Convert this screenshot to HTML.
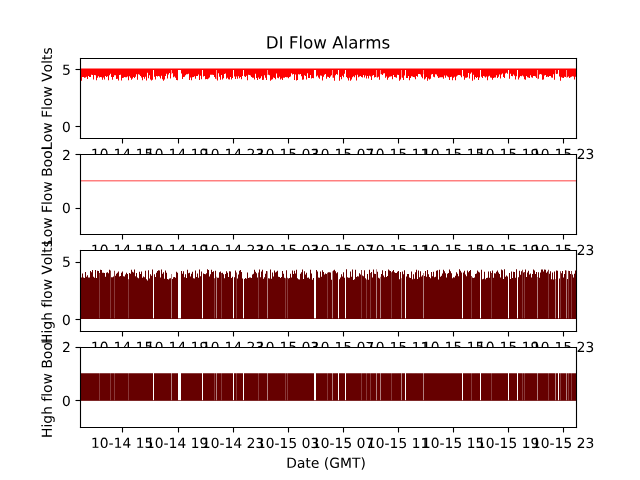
<!DOCTYPE html>
<html><head><meta charset="utf-8"><title>DI Flow Alarms</title>
<style>html,body{margin:0;padding:0;background:#fff;width:640px;height:480px;overflow:hidden;font-family:"Liberation Sans",sans-serif}svg{display:block}</style>
</head><body>
<svg width="640" height="480" viewBox="0 0 460.8 345.6" version="1.1">
<defs>
<style type="text/css">*{stroke-linejoin: round; stroke-linecap: butt}</style>
</defs>
<defs><path id="gl31" d="M 794 531 
L 1825 531 
L 1825 4091 
L 703 3866 
L 703 4441 
L 1819 4666 
L 2450 4666 
L 2450 531 
L 3481 531 
L 3481 0 
L 794 0 
L 794 531 
z
" transform="scale(0.015625)"/>
<path id="gl30" d="M 2034 4250 
Q 1547 4250 1301 3770 
Q 1056 3291 1056 2328 
Q 1056 1369 1301 889 
Q 1547 409 2034 409 
Q 2525 409 2770 889 
Q 3016 1369 3016 2328 
Q 3016 3291 2770 3770 
Q 2525 4250 2034 4250 
z
M 2034 4750 
Q 2819 4750 3233 4129 
Q 3647 3509 3647 2328 
Q 3647 1150 3233 529 
Q 2819 -91 2034 -91 
Q 1250 -91 836 529 
Q 422 1150 422 2328 
Q 422 3509 836 4129 
Q 1250 4750 2034 4750 
z
" transform="scale(0.015625)"/>
<path id="gl2d" d="M 313 2009 
L 1997 2009 
L 1997 1497 
L 313 1497 
L 313 2009 
z
" transform="scale(0.015625)"/>
<path id="gl34" d="M 2419 4116 
L 825 1625 
L 2419 1625 
L 2419 4116 
z
M 2253 4666 
L 3047 4666 
L 3047 1625 
L 3713 1625 
L 3713 1100 
L 3047 1100 
L 3047 0 
L 2419 0 
L 2419 1100 
L 313 1100 
L 313 1709 
L 2253 4666 
z
" transform="scale(0.015625)"/>
<path id="gl20" transform="scale(0.015625)"/>
<path id="gl35" d="M 691 4666 
L 3169 4666 
L 3169 4134 
L 1269 4134 
L 1269 2991 
Q 1406 3038 1543 3061 
Q 1681 3084 1819 3084 
Q 2600 3084 3056 2656 
Q 3513 2228 3513 1497 
Q 3513 744 3044 326 
Q 2575 -91 1722 -91 
Q 1428 -91 1123 -41 
Q 819 9 494 109 
L 494 744 
Q 775 591 1075 516 
Q 1375 441 1709 441 
Q 2250 441 2565 725 
Q 2881 1009 2881 1497 
Q 2881 1984 2565 2268 
Q 2250 2553 1709 2553 
Q 1456 2553 1204 2497 
Q 953 2441 691 2322 
L 691 4666 
z
" transform="scale(0.015625)"/>
<path id="gl39" d="M 703 97 
L 703 672 
Q 941 559 1184 500 
Q 1428 441 1663 441 
Q 2288 441 2617 861 
Q 2947 1281 2994 2138 
Q 2813 1869 2534 1725 
Q 2256 1581 1919 1581 
Q 1219 1581 811 2004 
Q 403 2428 403 3163 
Q 403 3881 828 4315 
Q 1253 4750 1959 4750 
Q 2769 4750 3195 4129 
Q 3622 3509 3622 2328 
Q 3622 1225 3098 567 
Q 2575 -91 1691 -91 
Q 1453 -91 1209 -44 
Q 966 3 703 97 
z
M 1959 2075 
Q 2384 2075 2632 2365 
Q 2881 2656 2881 3163 
Q 2881 3666 2632 3958 
Q 2384 4250 1959 4250 
Q 1534 4250 1286 3958 
Q 1038 3666 1038 3163 
Q 1038 2656 1286 2365 
Q 1534 2075 1959 2075 
z
" transform="scale(0.015625)"/>
<path id="gl32" d="M 1228 531 
L 3431 531 
L 3431 0 
L 469 0 
L 469 531 
Q 828 903 1448 1529 
Q 2069 2156 2228 2338 
Q 2531 2678 2651 2914 
Q 2772 3150 2772 3378 
Q 2772 3750 2511 3984 
Q 2250 4219 1831 4219 
Q 1534 4219 1204 4116 
Q 875 4013 500 3803 
L 500 4441 
Q 881 4594 1212 4672 
Q 1544 4750 1819 4750 
Q 2544 4750 2975 4387 
Q 3406 4025 3406 3419 
Q 3406 3131 3298 2873 
Q 3191 2616 2906 2266 
Q 2828 2175 2409 1742 
Q 1991 1309 1228 531 
z
" transform="scale(0.015625)"/>
<path id="gl33" d="M 2597 2516 
Q 3050 2419 3304 2112 
Q 3559 1806 3559 1356 
Q 3559 666 3084 287 
Q 2609 -91 1734 -91 
Q 1441 -91 1130 -33 
Q 819 25 488 141 
L 488 750 
Q 750 597 1062 519 
Q 1375 441 1716 441 
Q 2309 441 2620 675 
Q 2931 909 2931 1356 
Q 2931 1769 2642 2001 
Q 2353 2234 1838 2234 
L 1294 2234 
L 1294 2753 
L 1863 2753 
Q 2328 2753 2575 2939 
Q 2822 3125 2822 3475 
Q 2822 3834 2567 4026 
Q 2313 4219 1838 4219 
Q 1578 4219 1281 4162 
Q 984 4106 628 3988 
L 628 4550 
Q 988 4650 1302 4700 
Q 1616 4750 1894 4750 
Q 2613 4750 3031 4423 
Q 3450 4097 3450 3541 
Q 3450 3153 3228 2886 
Q 3006 2619 2597 2516 
z
" transform="scale(0.015625)"/>
<path id="gl37" d="M 525 4666 
L 3525 4666 
L 3525 4397 
L 1831 0 
L 1172 0 
L 2766 4134 
L 525 4134 
L 525 4666 
z
" transform="scale(0.015625)"/>
<path id="gl4c" d="M 628 4666 
L 1259 4666 
L 1259 531 
L 3531 531 
L 3531 0 
L 628 0 
L 628 4666 
z
" transform="scale(0.015625)"/>
<path id="gl6f" d="M 1959 3097 
Q 1497 3097 1228 2736 
Q 959 2375 959 1747 
Q 959 1119 1226 758 
Q 1494 397 1959 397 
Q 2419 397 2687 759 
Q 2956 1122 2956 1747 
Q 2956 2369 2687 2733 
Q 2419 3097 1959 3097 
z
M 1959 3584 
Q 2709 3584 3137 3096 
Q 3566 2609 3566 1747 
Q 3566 888 3137 398 
Q 2709 -91 1959 -91 
Q 1206 -91 779 398 
Q 353 888 353 1747 
Q 353 2609 779 3096 
Q 1206 3584 1959 3584 
z
" transform="scale(0.015625)"/>
<path id="gl77" d="M 269 3500 
L 844 3500 
L 1563 769 
L 2278 3500 
L 2956 3500 
L 3675 769 
L 4391 3500 
L 4966 3500 
L 4050 0 
L 3372 0 
L 2619 2869 
L 1863 0 
L 1184 0 
L 269 3500 
z
" transform="scale(0.015625)"/>
<path id="gl46" d="M 628 4666 
L 3309 4666 
L 3309 4134 
L 1259 4134 
L 1259 2759 
L 3109 2759 
L 3109 2228 
L 1259 2228 
L 1259 0 
L 628 0 
L 628 4666 
z
" transform="scale(0.015625)"/>
<path id="gl6c" d="M 603 4863 
L 1178 4863 
L 1178 0 
L 603 0 
L 603 4863 
z
" transform="scale(0.015625)"/>
<path id="gl56" d="M 1831 0 
L 50 4666 
L 709 4666 
L 2188 738 
L 3669 4666 
L 4325 4666 
L 2547 0 
L 1831 0 
z
" transform="scale(0.015625)"/>
<path id="gl74" d="M 1172 4494 
L 1172 3500 
L 2356 3500 
L 2356 3053 
L 1172 3053 
L 1172 1153 
Q 1172 725 1289 603 
Q 1406 481 1766 481 
L 2356 481 
L 2356 0 
L 1766 0 
Q 1100 0 847 248 
Q 594 497 594 1153 
L 594 3053 
L 172 3053 
L 172 3500 
L 594 3500 
L 594 4494 
L 1172 4494 
z
" transform="scale(0.015625)"/>
<path id="gl73" d="M 2834 3397 
L 2834 2853 
Q 2591 2978 2328 3040 
Q 2066 3103 1784 3103 
Q 1356 3103 1142 2972 
Q 928 2841 928 2578 
Q 928 2378 1081 2264 
Q 1234 2150 1697 2047 
L 1894 2003 
Q 2506 1872 2764 1633 
Q 3022 1394 3022 966 
Q 3022 478 2636 193 
Q 2250 -91 1575 -91 
Q 1294 -91 989 -36 
Q 684 19 347 128 
L 347 722 
Q 666 556 975 473 
Q 1284 391 1588 391 
Q 1994 391 2212 530 
Q 2431 669 2431 922 
Q 2431 1156 2273 1281 
Q 2116 1406 1581 1522 
L 1381 1569 
Q 847 1681 609 1914 
Q 372 2147 372 2553 
Q 372 3047 722 3315 
Q 1072 3584 1716 3584 
Q 2034 3584 2315 3537 
Q 2597 3491 2834 3397 
z
" transform="scale(0.015625)"/>
<path id="gl44" d="M 1259 4147 
L 1259 519 
L 2022 519 
Q 2988 519 3436 956 
Q 3884 1394 3884 2338 
Q 3884 3275 3436 3711 
Q 2988 4147 2022 4147 
L 1259 4147 
z
M 628 4666 
L 1925 4666 
Q 3281 4666 3915 4102 
Q 4550 3538 4550 2338 
Q 4550 1131 3912 565 
Q 3275 0 1925 0 
L 628 0 
L 628 4666 
z
" transform="scale(0.015625)"/>
<path id="gl49" d="M 628 4666 
L 1259 4666 
L 1259 0 
L 628 0 
L 628 4666 
z
" transform="scale(0.015625)"/>
<path id="gl41" d="M 2188 4044 
L 1331 1722 
L 3047 1722 
L 2188 4044 
z
M 1831 4666 
L 2547 4666 
L 4325 0 
L 3669 0 
L 3244 1197 
L 1141 1197 
L 716 0 
L 50 0 
L 1831 4666 
z
" transform="scale(0.015625)"/>
<path id="gl61" d="M 2194 1759 
Q 1497 1759 1228 1600 
Q 959 1441 959 1056 
Q 959 750 1161 570 
Q 1363 391 1709 391 
Q 2188 391 2477 730 
Q 2766 1069 2766 1631 
L 2766 1759 
L 2194 1759 
z
M 3341 1997 
L 3341 0 
L 2766 0 
L 2766 531 
Q 2569 213 2275 61 
Q 1981 -91 1556 -91 
Q 1019 -91 701 211 
Q 384 513 384 1019 
Q 384 1609 779 1909 
Q 1175 2209 1959 2209 
L 2766 2209 
L 2766 2266 
Q 2766 2663 2505 2880 
Q 2244 3097 1772 3097 
Q 1472 3097 1187 3025 
Q 903 2953 641 2809 
L 641 3341 
Q 956 3463 1253 3523 
Q 1550 3584 1831 3584 
Q 2591 3584 2966 3190 
Q 3341 2797 3341 1997 
z
" transform="scale(0.015625)"/>
<path id="gl72" d="M 2631 2963 
Q 2534 3019 2420 3045 
Q 2306 3072 2169 3072 
Q 1681 3072 1420 2755 
Q 1159 2438 1159 1844 
L 1159 0 
L 581 0 
L 581 3500 
L 1159 3500 
L 1159 2956 
Q 1341 3275 1631 3429 
Q 1922 3584 2338 3584 
Q 2397 3584 2469 3576 
Q 2541 3569 2628 3553 
L 2631 2963 
z
" transform="scale(0.015625)"/>
<path id="gl6d" d="M 3328 2828 
Q 3544 3216 3844 3400 
Q 4144 3584 4550 3584 
Q 5097 3584 5394 3201 
Q 5691 2819 5691 2113 
L 5691 0 
L 5113 0 
L 5113 2094 
Q 5113 2597 4934 2840 
Q 4756 3084 4391 3084 
Q 3944 3084 3684 2787 
Q 3425 2491 3425 1978 
L 3425 0 
L 2847 0 
L 2847 2094 
Q 2847 2600 2669 2842 
Q 2491 3084 2119 3084 
Q 1678 3084 1418 2786 
Q 1159 2488 1159 1978 
L 1159 0 
L 581 0 
L 581 3500 
L 1159 3500 
L 1159 2956 
Q 1356 3278 1631 3431 
Q 1906 3584 2284 3584 
Q 2666 3584 2933 3390 
Q 3200 3197 3328 2828 
z
" transform="scale(0.015625)"/>
<path id="gl42" d="M 1259 2228 
L 1259 519 
L 2272 519 
Q 2781 519 3026 730 
Q 3272 941 3272 1375 
Q 3272 1813 3026 2020 
Q 2781 2228 2272 2228 
L 1259 2228 
z
M 1259 4147 
L 1259 2741 
L 2194 2741 
Q 2656 2741 2882 2914 
Q 3109 3088 3109 3444 
Q 3109 3797 2882 3972 
Q 2656 4147 2194 4147 
L 1259 4147 
z
M 628 4666 
L 2241 4666 
Q 2963 4666 3353 4366 
Q 3744 4066 3744 3513 
Q 3744 3084 3544 2831 
Q 3344 2578 2956 2516 
Q 3422 2416 3680 2098 
Q 3938 1781 3938 1306 
Q 3938 681 3513 340 
Q 3088 0 2303 0 
L 628 0 
L 628 4666 
z
" transform="scale(0.015625)"/>
<path id="gl48" d="M 628 4666 
L 1259 4666 
L 1259 2753 
L 3553 2753 
L 3553 4666 
L 4184 4666 
L 4184 0 
L 3553 0 
L 3553 2222 
L 1259 2222 
L 1259 0 
L 628 0 
L 628 4666 
z
" transform="scale(0.015625)"/>
<path id="gl69" d="M 603 3500 
L 1178 3500 
L 1178 0 
L 603 0 
L 603 3500 
z
M 603 4863 
L 1178 4863 
L 1178 4134 
L 603 4134 
L 603 4863 
z
" transform="scale(0.015625)"/>
<path id="gl67" d="M 2906 1791 
Q 2906 2416 2648 2759 
Q 2391 3103 1925 3103 
Q 1463 3103 1205 2759 
Q 947 2416 947 1791 
Q 947 1169 1205 825 
Q 1463 481 1925 481 
Q 2391 481 2648 825 
Q 2906 1169 2906 1791 
z
M 3481 434 
Q 3481 -459 3084 -895 
Q 2688 -1331 1869 -1331 
Q 1566 -1331 1297 -1286 
Q 1028 -1241 775 -1147 
L 775 -588 
Q 1028 -725 1275 -790 
Q 1522 -856 1778 -856 
Q 2344 -856 2625 -561 
Q 2906 -266 2906 331 
L 2906 616 
Q 2728 306 2450 153 
Q 2172 0 1784 0 
Q 1141 0 747 490 
Q 353 981 353 1791 
Q 353 2603 747 3093 
Q 1141 3584 1784 3584 
Q 2172 3584 2450 3431 
Q 2728 3278 2906 2969 
L 2906 3500 
L 3481 3500 
L 3481 434 
z
" transform="scale(0.015625)"/>
<path id="gl68" d="M 3513 2113 
L 3513 0 
L 2938 0 
L 2938 2094 
Q 2938 2591 2744 2837 
Q 2550 3084 2163 3084 
Q 1697 3084 1428 2787 
Q 1159 2491 1159 1978 
L 1159 0 
L 581 0 
L 581 4863 
L 1159 4863 
L 1159 2956 
Q 1366 3272 1645 3428 
Q 1925 3584 2291 3584 
Q 2894 3584 3203 3211 
Q 3513 2838 3513 2113 
z
" transform="scale(0.015625)"/>
<path id="gl66" d="M 2375 4863 
L 2375 4384 
L 1825 4384 
Q 1516 4384 1395 4259 
Q 1275 4134 1275 3809 
L 1275 3500 
L 2222 3500 
L 2222 3053 
L 1275 3053 
L 1275 0 
L 697 0 
L 697 3053 
L 147 3053 
L 147 3500 
L 697 3500 
L 697 3744 
Q 697 4328 969 4595 
Q 1241 4863 1831 4863 
L 2375 4863 
z
" transform="scale(0.015625)"/>
<path id="gl65" d="M 3597 1894 
L 3597 1613 
L 953 1613 
Q 991 1019 1311 708 
Q 1631 397 2203 397 
Q 2534 397 2845 478 
Q 3156 559 3463 722 
L 3463 178 
Q 3153 47 2828 -22 
Q 2503 -91 2169 -91 
Q 1331 -91 842 396 
Q 353 884 353 1716 
Q 353 2575 817 3079 
Q 1281 3584 2069 3584 
Q 2775 3584 3186 3129 
Q 3597 2675 3597 1894 
z
M 3022 2063 
Q 3016 2534 2758 2815 
Q 2500 3097 2075 3097 
Q 1594 3097 1305 2825 
Q 1016 2553 972 2059 
L 3022 2063 
z
" transform="scale(0.015625)"/>
<path id="gl28" d="M 1984 4856 
Q 1566 4138 1362 3434 
Q 1159 2731 1159 2009 
Q 1159 1288 1364 580 
Q 1569 -128 1984 -844 
L 1484 -844 
Q 1016 -109 783 600 
Q 550 1309 550 2009 
Q 550 2706 781 3412 
Q 1013 4119 1484 4856 
L 1984 4856 
z
" transform="scale(0.015625)"/>
<path id="gl47" d="M 3809 666 
L 3809 1919 
L 2778 1919 
L 2778 2438 
L 4434 2438 
L 4434 434 
Q 4069 175 3628 42 
Q 3188 -91 2688 -91 
Q 1594 -91 976 548 
Q 359 1188 359 2328 
Q 359 3472 976 4111 
Q 1594 4750 2688 4750 
Q 3144 4750 3555 4637 
Q 3966 4525 4313 4306 
L 4313 3634 
Q 3963 3931 3569 4081 
Q 3175 4231 2741 4231 
Q 1884 4231 1454 3753 
Q 1025 3275 1025 2328 
Q 1025 1384 1454 906 
Q 1884 428 2741 428 
Q 3075 428 3337 486 
Q 3600 544 3809 666 
z
" transform="scale(0.015625)"/>
<path id="gl4d" d="M 628 4666 
L 1569 4666 
L 2759 1491 
L 3956 4666 
L 4897 4666 
L 4897 0 
L 4281 0 
L 4281 4097 
L 3078 897 
L 2444 897 
L 1241 4097 
L 1241 0 
L 628 0 
L 628 4666 
z
" transform="scale(0.015625)"/>
<path id="gl54" d="M -19 4666 
L 3928 4666 
L 3928 4134 
L 2272 4134 
L 2272 0 
L 1638 0 
L 1638 4134 
L -19 4134 
L -19 4666 
z
" transform="scale(0.015625)"/>
<path id="gl29" d="M 513 4856 
L 1013 4856 
Q 1481 4119 1714 3412 
Q 1947 2706 1947 2009 
Q 1947 1309 1714 600 
Q 1481 -109 1013 -844 
L 513 -844 
Q 928 -128 1133 580 
Q 1338 1288 1338 2009 
Q 1338 2731 1133 3434 
Q 928 4138 513 4856 
z
" transform="scale(0.015625)"/></defs>
<g id="figure_1">
<g id="patch_1">
<path d="M0 0H460.8V345.6H0Z" style="fill:#fff"/>
</g>
<g id="axes_1">
<g id="patch_2">
<path d="M57.6 41.76H414.72V99.36H57.6Z" style="fill:#fff"/>
</g>
<g id="matplotlib.axis_1">
<g id="xtick_1">
<g id="line2d_1">
<g>
<path d="M87.8 99.72H88.6V103.32H87.8Z" style="fill:#000"/>
</g>
</g>
<g id="T0" transform="translate(-0.289 0.461)">
<g transform="translate(65.706198 113.920872) scale(0.1 -0.1)">
<use href="#gl31"/>
<use href="#gl30" transform="translate(63.623047 0)"/>
<use href="#gl2d" transform="translate(127.246094 0)"/>
<use href="#gl31" transform="translate(163.330078 0)"/>
<use href="#gl34" transform="translate(226.953125 0)"/>
<use href="#gl20" transform="translate(290.576172 0)"/>
<use href="#gl31" transform="translate(322.363281 0)"/>
<use href="#gl35" transform="translate(385.986328 0)"/>
</g>
</g>
</g>
<g id="xtick_2">
<g id="line2d_2">
<g>
<path d="M128.12 99.72H128.92V103.32H128.12Z" style="fill:#000"/>
</g>
</g>
<g id="T1" transform="translate(-0.361 0.483)">
<g transform="translate(105.386198 113.920872) scale(0.1 -0.1)">
<use href="#gl31"/>
<use href="#gl30" transform="translate(63.623047 0)"/>
<use href="#gl2d" transform="translate(127.246094 0)"/>
<use href="#gl31" transform="translate(163.330078 0)"/>
<use href="#gl34" transform="translate(226.953125 0)"/>
<use href="#gl20" transform="translate(290.576172 0)"/>
<use href="#gl31" transform="translate(322.363281 0)"/>
<use href="#gl39" transform="translate(385.986328 0)"/>
</g>
</g>
</g>
<g id="xtick_3">
<g id="line2d_3">
<g>
<path d="M167.72 99.72H168.52V103.32H167.72Z" style="fill:#000"/>
</g>
</g>
<g id="T2" transform="translate(0.286 0.535)">
<g transform="translate(145.066198 113.920872) scale(0.1 -0.1)">
<use href="#gl31"/>
<use href="#gl30" transform="translate(63.623047 0)"/>
<use href="#gl2d" transform="translate(127.246094 0)"/>
<use href="#gl31" transform="translate(163.330078 0)"/>
<use href="#gl34" transform="translate(226.953125 0)"/>
<use href="#gl20" transform="translate(290.576172 0)"/>
<use href="#gl32" transform="translate(322.363281 0)"/>
<use href="#gl33" transform="translate(385.986328 0)"/>
</g>
</g>
</g>
<g id="xtick_4">
<g id="line2d_4">
<g>
<path d="M207.32 99.72H208.12V103.32H207.32Z" style="fill:#000"/>
</g>
</g>
<g id="T3" transform="translate(0.167 0.518)">
<g transform="translate(184.746198 113.920872) scale(0.1 -0.1)">
<use href="#gl31"/>
<use href="#gl30" transform="translate(63.623047 0)"/>
<use href="#gl2d" transform="translate(127.246094 0)"/>
<use href="#gl31" transform="translate(163.330078 0)"/>
<use href="#gl35" transform="translate(226.953125 0)"/>
<use href="#gl20" transform="translate(290.576172 0)"/>
<use href="#gl30" transform="translate(322.363281 0)"/>
<use href="#gl33" transform="translate(385.986328 0)"/>
</g>
</g>
</g>
<g id="xtick_5">
<g id="line2d_5">
<g>
<path d="M246.92 99.72H247.72V103.32H246.92Z" style="fill:#000"/>
</g>
</g>
<g id="T4" transform="translate(0.095 0.521)">
<g transform="translate(224.426198 113.920872) scale(0.1 -0.1)">
<use href="#gl31"/>
<use href="#gl30" transform="translate(63.623047 0)"/>
<use href="#gl2d" transform="translate(127.246094 0)"/>
<use href="#gl31" transform="translate(163.330078 0)"/>
<use href="#gl35" transform="translate(226.953125 0)"/>
<use href="#gl20" transform="translate(290.576172 0)"/>
<use href="#gl30" transform="translate(322.363281 0)"/>
<use href="#gl37" transform="translate(385.986328 0)"/>
</g>
</g>
</g>
<g id="xtick_6">
<g id="line2d_6">
<g>
<path d="M286.52 99.72H287.32V103.32H286.52Z" style="fill:#000"/>
</g>
</g>
<g id="T5" transform="translate(0.034 0.474)">
<g transform="translate(264.106198 113.920872) scale(0.1 -0.1)">
<use href="#gl31"/>
<use href="#gl30" transform="translate(63.623047 0)"/>
<use href="#gl2d" transform="translate(127.246094 0)"/>
<use href="#gl31" transform="translate(163.330078 0)"/>
<use href="#gl35" transform="translate(226.953125 0)"/>
<use href="#gl20" transform="translate(290.576172 0)"/>
<use href="#gl31" transform="translate(322.363281 0)"/>
<use href="#gl31" transform="translate(385.986328 0)"/>
</g>
</g>
</g>
<g id="xtick_7">
<g id="line2d_7">
<g>
<path d="M326.12 99.72H326.92V103.32H326.12Z" style="fill:#000"/>
</g>
</g>
<g id="T6" transform="translate(-0.019 0.474)">
<g transform="translate(303.786198 113.920872) scale(0.1 -0.1)">
<use href="#gl31"/>
<use href="#gl30" transform="translate(63.623047 0)"/>
<use href="#gl2d" transform="translate(127.246094 0)"/>
<use href="#gl31" transform="translate(163.330078 0)"/>
<use href="#gl35" transform="translate(226.953125 0)"/>
<use href="#gl20" transform="translate(290.576172 0)"/>
<use href="#gl31" transform="translate(322.363281 0)"/>
<use href="#gl35" transform="translate(385.986328 0)"/>
</g>
</g>
</g>
<g id="xtick_8">
<g id="line2d_8">
<g>
<path d="M365.72 99.72H366.52V103.32H365.72Z" style="fill:#000"/>
</g>
</g>
<g id="T7" transform="translate(-0.103 0.518)">
<g transform="translate(343.466198 113.920872) scale(0.1 -0.1)">
<use href="#gl31"/>
<use href="#gl30" transform="translate(63.623047 0)"/>
<use href="#gl2d" transform="translate(127.246094 0)"/>
<use href="#gl31" transform="translate(163.330078 0)"/>
<use href="#gl35" transform="translate(226.953125 0)"/>
<use href="#gl20" transform="translate(290.576172 0)"/>
<use href="#gl31" transform="translate(322.363281 0)"/>
<use href="#gl39" transform="translate(385.986328 0)"/>
</g>
</g>
</g>
<g id="xtick_9">
<g id="line2d_9">
<g>
<path d="M405.32 99.72H406.12V103.32H405.32Z" style="fill:#000"/>
</g>
</g>
<g id="T8" transform="translate(-0.187 0.546)">
<g transform="translate(383.146198 113.920872) scale(0.1 -0.1)">
<use href="#gl31"/>
<use href="#gl30" transform="translate(63.623047 0)"/>
<use href="#gl2d" transform="translate(127.246094 0)"/>
<use href="#gl31" transform="translate(163.330078 0)"/>
<use href="#gl35" transform="translate(226.953125 0)"/>
<use href="#gl20" transform="translate(290.576172 0)"/>
<use href="#gl32" transform="translate(322.363281 0)"/>
<use href="#gl33" transform="translate(385.986328 0)"/>
</g>
</g>
</g>
</g>
<g id="matplotlib.axis_2">
<g id="ytick_1">
<g id="line2d_10">
<g>
<path d="M54.36 90.68H57.96V91.48H54.36Z" style="fill:#000"/>
</g>
</g>
<g id="T10" transform="translate(0.359 0.163)">
<g transform="translate(44.2375 94.857306) scale(0.1 -0.1)">
<use href="#gl30"/>
</g>
</g>
</g>
<g id="ytick_2">
<g id="line2d_11">
<g>
<path d="M54.36 49.64H57.96V50.44H54.36Z" style="fill:#000"/>
</g>
</g>
<g id="T11" transform="translate(0.425 0.302)">
<g transform="translate(44.2375 53.535567) scale(0.1 -0.1)">
<use href="#gl35"/>
</g>
</g>
</g>
<g id="T13" transform="translate(-0.819 0.634)">
<g transform="translate(38.157812 107.350342) rotate(-90) scale(0.1 -0.1)">
<use href="#gl4c"/>
<use href="#gl6f" transform="translate(55.697266 0)"/>
<use href="#gl77" transform="translate(116.878906 0)"/>
<use href="#gl20" transform="translate(198.666016 0)"/>
<use href="#gl46" transform="translate(230.453125 0)"/>
<use href="#gl6c" transform="translate(287.972656 0)"/>
<use href="#gl6f" transform="translate(315.755859 0)"/>
<use href="#gl77" transform="translate(376.9375 0)"/>
<use href="#gl20" transform="translate(458.724609 0)"/>
<use href="#gl56" transform="translate(490.511719 0)"/>
<use href="#gl6f" transform="translate(558.810547 0)"/>
<use href="#gl6c" transform="translate(619.992188 0)"/>
<use href="#gl74" transform="translate(647.775391 0)"/>
<use href="#gl73" transform="translate(686.984375 0)"/>
</g>
</g>
</g>
<g id="data1"><path d="M123.12 50.472H123.84V53.48H123.12ZM155.52 50.472H156.24V57.008H155.52ZM192.24 50.472H192.96V54.039H192.24ZM239.04 50.472H239.76V56.032H239.04ZM270.72 50.472H271.44V55.684H270.72ZM273.6 50.472H274.32V53.413H273.6ZM288.72 50.472H289.44V55.767H288.72ZM304.56 50.472H305.28V53.399H304.56ZM386.64 50.472H387.36V57.108H386.64ZM399.6 50.472H400.32V52.914H399.6ZM407.52 50.472H408.24V56H407.52Z" style="fill:#ff0000;fill-opacity:0.4" /><path d="M57.6 49.356H58.32V50.472H57.6ZM57.6 50.472H58.32V56.603H57.6ZM58.32 49.356H59.04V50.472H58.32ZM58.32 50.472H59.04V58.143H58.32ZM59.04 49.356H59.76V50.472H59.04ZM59.04 50.472H59.76V55.449H59.04ZM59.76 49.356H60.48V50.472H59.76ZM59.76 50.472H60.48V55.512H59.76ZM60.48 49.356H61.2V50.472H60.48ZM60.48 50.472H61.2V55.928H60.48ZM61.2 49.356H61.92V50.472H61.2ZM61.2 50.472H61.92V55.749H61.2ZM61.92 49.356H62.64V50.472H61.92ZM61.92 50.472H62.64V55.292H61.92ZM62.64 49.356H63.36V50.472H62.64ZM62.64 50.472H63.36V56.801H62.64ZM63.36 49.356H64.08V50.472H63.36ZM63.36 50.472H64.08V54.656H63.36ZM64.08 49.356H64.8V50.472H64.08ZM64.08 50.472H64.8V55.496H64.08ZM64.8 49.356H65.52V50.472H64.8ZM64.8 50.472H65.52V55.502H64.8ZM65.52 49.356H66.24V50.472H65.52ZM65.52 50.472H66.24V53.734H65.52ZM66.24 49.356H66.96V50.472H66.24ZM66.24 50.472H66.96V53.98H66.24ZM66.96 49.356H67.68V50.472H66.96ZM66.96 50.472H67.68V57.284H66.96ZM67.68 49.356H68.4V50.472H67.68ZM67.68 50.472H68.4V54.084H67.68ZM68.4 49.356H69.12V50.472H68.4ZM68.4 50.472H69.12V54.116H68.4ZM69.12 49.356H69.84V50.472H69.12ZM69.12 50.472H69.84V57.847H69.12ZM69.84 49.356H70.56V50.472H69.84ZM69.84 50.472H70.56V55.981H69.84ZM70.56 49.356H71.28V50.472H70.56ZM70.56 50.472H71.28V54.987H70.56ZM71.28 49.356H72V50.472H71.28ZM71.28 50.472H72V55.746H71.28ZM72 49.356H72.72V50.472H72ZM72 50.472H72.72V55.463H72ZM72.72 49.356H73.44V50.472H72.72ZM72.72 50.472H73.44V55.6H72.72ZM73.44 49.356H74.16V50.472H73.44ZM73.44 50.472H74.16V57.445H73.44ZM74.16 49.356H74.88V50.472H74.16ZM74.16 50.472H74.88V55.82H74.16ZM74.88 49.356H75.6V50.472H74.88ZM74.88 50.472H75.6V57.255H74.88ZM75.6 49.356H76.32V50.472H75.6ZM75.6 50.472H76.32V54.677H75.6ZM76.32 49.356H77.04V50.472H76.32ZM76.32 50.472H77.04V55.51H76.32ZM77.04 49.356H77.76V50.472H77.04ZM77.04 50.472H77.76V54.85H77.04ZM77.76 49.356H78.48V50.472H77.76ZM77.76 50.472H78.48V57.752H77.76ZM78.48 49.356H79.2V50.472H78.48ZM78.48 50.472H79.2V54.095H78.48ZM79.2 49.356H79.92V50.472H79.2ZM79.2 50.472H79.92V53.13H79.2ZM79.92 49.356H80.64V50.472H79.92ZM79.92 50.472H80.64V55.387H79.92ZM80.64 49.356H81.36V50.472H80.64ZM80.64 50.472H81.36V57.332H80.64ZM81.36 49.356H82.08V50.472H81.36ZM81.36 50.472H82.08V55.504H81.36ZM82.08 49.356H82.8V50.472H82.08ZM82.08 50.472H82.8V54.113H82.08ZM82.8 49.356H83.52V50.472H82.8ZM82.8 50.472H83.52V54.216H82.8ZM83.52 49.356H84.24V50.472H83.52ZM83.52 50.472H84.24V56.813H83.52ZM84.24 49.356H84.96V50.472H84.24ZM84.24 50.472H84.96V56.695H84.24ZM84.96 49.356H85.68V50.472H84.96ZM84.96 50.472H85.68V58.015H84.96ZM85.68 49.356H86.4V50.472H85.68ZM85.68 50.472H86.4V54.023H85.68ZM86.4 49.356H87.12V50.472H86.4ZM86.4 50.472H87.12V53.781H86.4ZM87.12 49.356H87.84V50.472H87.12ZM87.12 50.472H87.84V57.903H87.12ZM87.84 49.356H88.56V50.472H87.84ZM87.84 50.472H88.56V56.207H87.84ZM88.56 49.356H89.28V50.472H88.56ZM88.56 50.472H89.28V55.933H88.56ZM89.28 49.356H90V50.472H89.28ZM89.28 50.472H90V55.431H89.28ZM90 49.356H90.72V50.472H90ZM90 50.472H90.72V55.55H90ZM90.72 49.356H91.44V50.472H90.72ZM90.72 50.472H91.44V55.655H90.72ZM91.44 49.356H92.16V50.472H91.44ZM91.44 50.472H92.16V55.108H91.44ZM92.16 49.356H92.88V50.472H92.16ZM92.16 50.472H92.88V57.836H92.16ZM92.88 49.356H93.6V50.472H92.88ZM92.88 50.472H93.6V54.921H92.88ZM93.6 49.356H94.32V50.472H93.6ZM93.6 50.472H94.32V55.896H93.6ZM94.32 49.356H95.04V50.472H94.32ZM94.32 50.472H95.04V57.35H94.32ZM95.04 49.356H95.76V50.472H95.04ZM95.04 50.472H95.76V56.497H95.04ZM95.76 49.356H96.48V50.472H95.76ZM95.76 50.472H96.48V55.364H95.76ZM96.48 49.356H97.2V50.472H96.48ZM96.48 50.472H97.2V56.088H96.48ZM97.2 49.356H97.92V50.472H97.2ZM97.2 50.472H97.92V55.236H97.2ZM97.92 49.356H98.64V50.472H97.92ZM97.92 50.472H98.64V53.535H97.92ZM98.64 49.356H99.36V50.472H98.64ZM98.64 50.472H99.36V57.36H98.64ZM99.36 49.356H100.08V50.472H99.36ZM99.36 50.472H100.08V53.374H99.36ZM100.08 49.356H100.8V50.472H100.08ZM100.08 50.472H100.8V53.808H100.08ZM100.8 49.356H101.52V50.472H100.8ZM100.8 50.472H101.52V54.654H100.8ZM101.52 49.356H102.24V50.472H101.52ZM101.52 50.472H102.24V55.813H101.52ZM102.24 49.356H102.96V50.472H102.24ZM102.24 50.472H102.96V57.859H102.24ZM102.96 49.356H103.68V50.472H102.96ZM102.96 50.472H103.68V55.461H102.96ZM103.68 49.356H104.4V50.472H103.68ZM103.68 50.472H104.4V56.731H103.68ZM104.4 49.356H105.12V50.472H104.4ZM104.4 50.472H105.12V55.235H104.4ZM105.12 49.356H105.84V50.472H105.12ZM105.12 50.472H105.84V57.988H105.12ZM105.84 49.356H106.56V50.472H105.84ZM105.84 50.472H106.56V52.338H105.84ZM106.56 49.356H107.28V50.472H106.56ZM106.56 50.472H107.28V56.349H106.56ZM107.28 49.356H108V50.472H107.28ZM107.28 50.472H108V54.212H107.28ZM108 49.356H108.72V50.472H108ZM108 50.472H108.72V57.305H108ZM108.72 49.356H109.44V50.472H108.72ZM108.72 50.472H109.44V57.982H108.72ZM109.44 49.356H110.16V50.472H109.44ZM109.44 50.472H110.16V57.36H109.44ZM110.16 49.356H110.88V50.472H110.16ZM110.88 49.356H111.6V50.472H110.88ZM110.88 50.472H111.6V55.313H110.88ZM111.6 49.356H112.32V50.472H111.6ZM111.6 50.472H112.32V57.27H111.6ZM112.32 49.356H113.04V50.472H112.32ZM112.32 50.472H113.04V54.749H112.32ZM113.04 49.356H113.76V50.472H113.04ZM113.04 50.472H113.76V55.133H113.04ZM113.76 49.356H114.48V50.472H113.76ZM113.76 50.472H114.48V54.746H113.76ZM114.48 49.356H115.2V50.472H114.48ZM114.48 50.472H115.2V55.022H114.48ZM115.2 49.356H115.92V50.472H115.2ZM115.2 50.472H115.92V56.504H115.2ZM115.92 49.356H116.64V50.472H115.92ZM115.92 50.472H116.64V54.478H115.92ZM116.64 49.356H117.36V50.472H116.64ZM116.64 50.472H117.36V56.982H116.64ZM117.36 49.356H118.08V50.472H117.36ZM117.36 50.472H118.08V58.144H117.36ZM118.08 49.356H118.8V50.472H118.08ZM118.08 50.472H118.8V57.208H118.08ZM118.8 49.356H119.52V50.472H118.8ZM118.8 50.472H119.52V54.794H118.8ZM119.52 49.356H120.24V50.472H119.52ZM119.52 50.472H120.24V53.175H119.52ZM120.24 49.356H120.96V50.472H120.24ZM120.24 50.472H120.96V56.525H120.24ZM120.96 49.356H121.68V50.472H120.96ZM120.96 50.472H121.68V53.63H120.96ZM121.68 49.356H122.4V50.472H121.68ZM121.68 50.472H122.4V52.477H121.68ZM122.4 49.356H123.12V50.472H122.4ZM122.4 50.472H123.12V56.608H122.4ZM123.12 49.356H123.84V50.472H123.12ZM123.84 49.356H124.56V50.472H123.84ZM123.84 50.472H124.56V52.787H123.84ZM124.56 49.356H125.28V50.472H124.56ZM124.56 50.472H125.28V55.54H124.56ZM125.28 49.356H126V50.472H125.28ZM125.28 50.472H126V55.049H125.28ZM126 49.356H126.72V50.472H126ZM126 50.472H126.72V55.988H126ZM126.72 49.356H127.44V50.472H126.72ZM126.72 50.472H127.44V57.671H126.72ZM127.44 49.356H128.16V50.472H127.44ZM127.44 50.472H128.16V57.705H127.44ZM128.16 49.356H128.88V50.472H128.16ZM128.88 49.356H129.6V50.472H128.88ZM129.6 49.356H130.32V50.472H129.6ZM130.32 49.356H131.04V50.472H130.32ZM130.32 50.472H131.04V52.867H130.32ZM131.04 49.356H131.76V50.472H131.04ZM131.04 50.472H131.76V56.797H131.04ZM131.76 49.356H132.48V50.472H131.76ZM131.76 50.472H132.48V55.431H131.76ZM132.48 49.356H133.2V50.472H132.48ZM132.48 50.472H133.2V55.309H132.48ZM133.2 49.356H133.92V50.472H133.2ZM133.2 50.472H133.92V54.241H133.2ZM133.92 49.356H134.64V50.472H133.92ZM133.92 50.472H134.64V53.491H133.92ZM134.64 49.356H135.36V50.472H134.64ZM134.64 50.472H135.36V53.55H134.64ZM135.36 49.356H136.08V50.472H135.36ZM135.36 50.472H136.08V53.037H135.36ZM136.08 49.356H136.8V50.472H136.08ZM136.08 50.472H136.8V57.544H136.08ZM136.8 49.356H137.52V50.472H136.8ZM136.8 50.472H137.52V55.803H136.8ZM137.52 49.356H138.24V50.472H137.52ZM137.52 50.472H138.24V57.775H137.52ZM138.24 49.356H138.96V50.472H138.24ZM138.24 50.472H138.96V55.601H138.24ZM138.96 49.356H139.68V50.472H138.96ZM138.96 50.472H139.68V55.399H138.96ZM139.68 49.356H140.4V50.472H139.68ZM139.68 50.472H140.4V54.84H139.68ZM140.4 49.356H141.12V50.472H140.4ZM140.4 50.472H141.12V56.655H140.4ZM141.12 49.356H141.84V50.472H141.12ZM141.12 50.472H141.84V54.689H141.12ZM141.84 49.356H142.56V50.472H141.84ZM141.84 50.472H142.56V54.782H141.84ZM142.56 49.356H143.28V50.472H142.56ZM142.56 50.472H143.28V53.728H142.56ZM143.28 49.356H144V50.472H143.28ZM143.28 50.472H144V57.529H143.28ZM144 49.356H144.72V50.472H144ZM144 50.472H144.72V54.457H144ZM144.72 49.356H145.44V50.472H144.72ZM144.72 50.472H145.44V57.141H144.72ZM145.44 49.356H146.16V50.472H145.44ZM146.16 49.356H146.88V50.472H146.16ZM146.16 50.472H146.88V55.055H146.16ZM146.88 49.356H147.6V50.472H146.88ZM146.88 50.472H147.6V54.661H146.88ZM147.6 49.356H148.32V50.472H147.6ZM147.6 50.472H148.32V57.131H147.6ZM148.32 49.356H149.04V50.472H148.32ZM148.32 50.472H149.04V56.864H148.32ZM149.04 49.356H149.76V50.472H149.04ZM149.04 50.472H149.76V56.991H149.04ZM149.76 49.356H150.48V50.472H149.76ZM149.76 50.472H150.48V56.464H149.76ZM150.48 49.356H151.2V50.472H150.48ZM150.48 50.472H151.2V55.777H150.48ZM151.2 49.356H151.92V50.472H151.2ZM151.2 50.472H151.92V53.819H151.2ZM151.92 49.356H152.64V50.472H151.92ZM151.92 50.472H152.64V53.879H151.92ZM152.64 49.356H153.36V50.472H152.64ZM152.64 50.472H153.36V53.881H152.64ZM153.36 49.356H154.08V50.472H153.36ZM153.36 50.472H154.08V54H153.36ZM154.08 49.356H154.8V50.472H154.08ZM154.08 50.472H154.8V55.352H154.08ZM154.8 49.356H155.52V50.472H154.8ZM154.8 50.472H155.52V56.759H154.8ZM155.52 49.356H156.24V50.472H155.52ZM156.24 49.356H156.96V50.472H156.24ZM156.24 50.472H156.96V57.934H156.24ZM156.96 49.356H157.68V50.472H156.96ZM156.96 50.472H157.68V52.813H156.96ZM157.68 49.356H158.4V50.472H157.68ZM157.68 50.472H158.4V55.257H157.68ZM158.4 49.356H159.12V50.472H158.4ZM158.4 50.472H159.12V57.47H158.4ZM159.12 49.356H159.84V50.472H159.12ZM159.12 50.472H159.84V53.923H159.12ZM159.84 49.356H160.56V50.472H159.84ZM159.84 50.472H160.56V57.239H159.84ZM160.56 49.356H161.28V50.472H160.56ZM160.56 50.472H161.28V56.255H160.56ZM161.28 49.356H162V50.472H161.28ZM161.28 50.472H162V53.352H161.28ZM162 49.356H162.72V50.472H162ZM162 50.472H162.72V52.995H162ZM162.72 49.356H163.44V50.472H162.72ZM162.72 50.472H163.44V56.723H162.72ZM163.44 49.356H164.16V50.472H163.44ZM163.44 50.472H164.16V55.997H163.44ZM164.16 49.356H164.88V50.472H164.16ZM164.16 50.472H164.88V57.055H164.16ZM164.88 49.356H165.6V50.472H164.88ZM164.88 50.472H165.6V57.18H164.88ZM165.6 49.356H166.32V50.472H165.6ZM165.6 50.472H166.32V55.363H165.6ZM166.32 49.356H167.04V50.472H166.32ZM166.32 50.472H167.04V57.177H166.32ZM167.04 49.356H167.76V50.472H167.04ZM167.04 50.472H167.76V56.149H167.04ZM167.76 49.356H168.48V50.472H167.76ZM168.48 49.356H169.2V50.472H168.48ZM168.48 50.472H169.2V55.08H168.48ZM169.2 49.356H169.92V50.472H169.2ZM169.2 50.472H169.92V56.822H169.2ZM169.92 49.356H170.64V50.472H169.92ZM169.92 50.472H170.64V55.008H169.92ZM170.64 49.356H171.36V50.472H170.64ZM170.64 50.472H171.36V56.624H170.64ZM171.36 49.356H172.08V50.472H171.36ZM171.36 50.472H172.08V54.851H171.36ZM172.08 49.356H172.8V50.472H172.08ZM172.08 50.472H172.8V56.274H172.08ZM172.8 49.356H173.52V50.472H172.8ZM172.8 50.472H173.52V55.46H172.8ZM173.52 49.356H174.24V50.472H173.52ZM173.52 50.472H174.24V57.114H173.52ZM174.24 49.356H174.96V50.472H174.24ZM174.24 50.472H174.96V54.655H174.24ZM174.96 49.356H175.68V50.472H174.96ZM175.68 49.356H176.4V50.472H175.68ZM175.68 50.472H176.4V54.883H175.68ZM176.4 49.356H177.12V50.472H176.4ZM176.4 50.472H177.12V55.401H176.4ZM177.12 49.356H177.84V50.472H177.12ZM177.12 50.472H177.84V54.534H177.12ZM177.84 49.356H178.56V50.472H177.84ZM177.84 50.472H178.56V57.84H177.84ZM178.56 49.356H179.28V50.472H178.56ZM178.56 50.472H179.28V53.88H178.56ZM179.28 49.356H180V50.472H179.28ZM179.28 50.472H180V54.007H179.28ZM180 49.356H180.72V50.472H180ZM180 50.472H180.72V54.293H180ZM180.72 49.356H181.44V50.472H180.72ZM180.72 50.472H181.44V55.445H180.72ZM181.44 49.356H182.16V50.472H181.44ZM181.44 50.472H182.16V56.067H181.44ZM182.16 49.356H182.88V50.472H182.16ZM182.16 50.472H182.88V55.932H182.16ZM182.88 49.356H183.6V50.472H182.88ZM182.88 50.472H183.6V57.288H182.88ZM183.6 49.356H184.32V50.472H183.6ZM183.6 50.472H184.32V53.184H183.6ZM184.32 49.356H185.04V50.472H184.32ZM184.32 50.472H185.04V56.203H184.32ZM185.04 49.356H185.76V50.472H185.04ZM185.04 50.472H185.76V57.528H185.04ZM185.76 49.356H186.48V50.472H185.76ZM185.76 50.472H186.48V55.889H185.76ZM186.48 49.356H187.2V50.472H186.48ZM186.48 50.472H187.2V56.875H186.48ZM187.2 49.356H187.92V50.472H187.2ZM187.2 50.472H187.92V56.42H187.2ZM187.92 49.356H188.64V50.472H187.92ZM187.92 50.472H188.64V54.875H187.92ZM188.64 49.356H189.36V50.472H188.64ZM188.64 50.472H189.36V57.624H188.64ZM189.36 49.356H190.08V50.472H189.36ZM189.36 50.472H190.08V57.391H189.36ZM190.08 49.356H190.8V50.472H190.08ZM190.08 50.472H190.8V54.154H190.08ZM190.8 49.356H191.52V50.472H190.8ZM190.8 50.472H191.52V55.985H190.8ZM191.52 49.356H192.24V50.472H191.52ZM191.52 50.472H192.24V57.617H191.52ZM192.24 49.356H192.96V50.472H192.24ZM192.96 49.356H193.68V50.472H192.96ZM192.96 50.472H193.68V53.731H192.96ZM193.68 49.356H194.4V50.472H193.68ZM193.68 50.472H194.4V54.212H193.68ZM194.4 49.356H195.12V50.472H194.4ZM194.4 50.472H195.12V58.127H194.4ZM195.12 49.356H195.84V50.472H195.12ZM195.12 50.472H195.84V57.373H195.12ZM195.84 49.356H196.56V50.472H195.84ZM195.84 50.472H196.56V57.076H195.84ZM196.56 49.356H197.28V50.472H196.56ZM196.56 50.472H197.28V55.765H196.56ZM197.28 49.356H198V50.472H197.28ZM197.28 50.472H198V56.227H197.28ZM198 49.356H198.72V50.472H198ZM198 50.472H198.72V57.011H198ZM198.72 49.356H199.44V50.472H198.72ZM198.72 50.472H199.44V52.878H198.72ZM199.44 49.356H200.16V50.472H199.44ZM199.44 50.472H200.16V56.015H199.44ZM200.16 49.356H200.88V50.472H200.16ZM200.16 50.472H200.88V56.304H200.16ZM200.88 49.356H201.6V50.472H200.88ZM200.88 50.472H201.6V55.227H200.88ZM201.6 49.356H202.32V50.472H201.6ZM201.6 50.472H202.32V57.237H201.6ZM202.32 49.356H203.04V50.472H202.32ZM202.32 50.472H203.04V56.453H202.32ZM203.04 49.356H203.76V50.472H203.04ZM203.04 50.472H203.76V57.55H203.04ZM203.76 49.356H204.48V50.472H203.76ZM203.76 50.472H204.48V56.024H203.76ZM204.48 49.356H205.2V50.472H204.48ZM204.48 50.472H205.2V56.032H204.48ZM205.2 49.356H205.92V50.472H205.2ZM205.2 50.472H205.92V55.353H205.2ZM205.92 49.356H206.64V50.472H205.92ZM205.92 50.472H206.64V55.709H205.92ZM206.64 49.356H207.36V50.472H206.64ZM206.64 50.472H207.36V55.664H206.64ZM207.36 49.356H208.08V50.472H207.36ZM207.36 50.472H208.08V56.327H207.36ZM208.08 49.356H208.8V50.472H208.08ZM208.08 50.472H208.8V55.401H208.08ZM208.8 49.356H209.52V50.472H208.8ZM208.8 50.472H209.52V55.055H208.8ZM209.52 49.356H210.24V50.472H209.52ZM209.52 50.472H210.24V52.819H209.52ZM210.24 49.356H210.96V50.472H210.24ZM210.24 50.472H210.96V53.625H210.24ZM210.96 49.356H211.68V50.472H210.96ZM210.96 50.472H211.68V53.27H210.96ZM211.68 49.356H212.4V50.472H211.68ZM211.68 50.472H212.4V57.559H211.68ZM212.4 49.356H213.12V50.472H212.4ZM212.4 50.472H213.12V53.7H212.4ZM213.12 49.356H213.84V50.472H213.12ZM213.12 50.472H213.84V58.007H213.12ZM213.84 49.356H214.56V50.472H213.84ZM213.84 50.472H214.56V57.68H213.84ZM214.56 49.356H215.28V50.472H214.56ZM214.56 50.472H215.28V53.537H214.56ZM215.28 49.356H216V50.472H215.28ZM215.28 50.472H216V53.615H215.28ZM216 49.356H216.72V50.472H216ZM216 50.472H216.72V53.339H216ZM216.72 49.356H217.44V50.472H216.72ZM216.72 50.472H217.44V54.881H216.72ZM217.44 49.356H218.16V50.472H217.44ZM217.44 50.472H218.16V57.392H217.44ZM218.16 49.356H218.88V50.472H218.16ZM218.16 50.472H218.88V57.239H218.16ZM218.88 49.356H219.6V50.472H218.88ZM218.88 50.472H219.6V54.176H218.88ZM219.6 49.356H220.32V50.472H219.6ZM219.6 50.472H220.32V54.801H219.6ZM220.32 49.356H221.04V50.472H220.32ZM220.32 50.472H221.04V57.162H220.32ZM221.04 49.356H221.76V50.472H221.04ZM221.04 50.472H221.76V52.756H221.04ZM221.76 49.356H222.48V50.472H221.76ZM221.76 50.472H222.48V56.126H221.76ZM222.48 49.356H223.2V50.472H222.48ZM222.48 50.472H223.2V56.092H222.48ZM223.2 49.356H223.92V50.472H223.2ZM223.2 50.472H223.92V53.924H223.2ZM223.92 49.356H224.64V50.472H223.92ZM223.92 50.472H224.64V56.602H223.92ZM224.64 49.356H225.36V50.472H224.64ZM224.64 50.472H225.36V56.222H224.64ZM225.36 49.356H226.08V50.472H225.36ZM225.36 50.472H226.08V56.385H225.36ZM226.08 49.356H226.8V50.472H226.08ZM226.8 49.356H227.52V50.472H226.8ZM227.52 49.356H228.24V50.472H227.52ZM227.52 50.472H228.24V55.132H227.52ZM228.24 49.356H228.96V50.472H228.24ZM228.24 50.472H228.96V54.328H228.24ZM228.96 49.356H229.68V50.472H228.96ZM228.96 50.472H229.68V55.754H228.96ZM229.68 49.356H230.4V50.472H229.68ZM229.68 50.472H230.4V56.652H229.68ZM230.4 49.356H231.12V50.472H230.4ZM230.4 50.472H231.12V54.423H230.4ZM231.12 49.356H231.84V50.472H231.12ZM231.12 50.472H231.84V54.458H231.12ZM231.84 49.356H232.56V50.472H231.84ZM231.84 50.472H232.56V58.022H231.84ZM232.56 49.356H233.28V50.472H232.56ZM232.56 50.472H233.28V55.346H232.56ZM233.28 49.356H234V50.472H233.28ZM233.28 50.472H234V53.731H233.28ZM234 49.356H234.72V50.472H234ZM234 50.472H234.72V53.234H234ZM234.72 49.356H235.44V50.472H234.72ZM234.72 50.472H235.44V56.656H234.72ZM235.44 49.356H236.16V50.472H235.44ZM235.44 50.472H236.16V55.278H235.44ZM236.16 49.356H236.88V50.472H236.16ZM236.16 50.472H236.88V55.426H236.16ZM236.88 49.356H237.6V50.472H236.88ZM236.88 50.472H237.6V56.174H236.88ZM237.6 49.356H238.32V50.472H237.6ZM237.6 50.472H238.32V55.146H237.6ZM238.32 49.356H239.04V50.472H238.32ZM238.32 50.472H239.04V54.157H238.32ZM239.04 49.356H239.76V50.472H239.04ZM239.76 49.356H240.48V50.472H239.76ZM239.76 50.472H240.48V56.025H239.76ZM240.48 49.356H241.2V50.472H240.48ZM240.48 50.472H241.2V58.14H240.48ZM241.2 49.356H241.92V50.472H241.2ZM241.2 50.472H241.92V54.166H241.2ZM241.92 49.356H242.64V50.472H241.92ZM241.92 50.472H242.64V53.297H241.92ZM242.64 49.356H243.36V50.472H242.64ZM242.64 50.472H243.36V53.849H242.64ZM243.36 49.356H244.08V50.472H243.36ZM244.08 49.356H244.8V50.472H244.08ZM244.08 50.472H244.8V58.07H244.08ZM244.8 49.356H245.52V50.472H244.8ZM244.8 50.472H245.52V55.391H244.8ZM245.52 49.356H246.24V50.472H245.52ZM245.52 50.472H246.24V57.083H245.52ZM246.24 49.356H246.96V50.472H246.24ZM246.24 50.472H246.96V54.531H246.24ZM246.96 49.356H247.68V50.472H246.96ZM246.96 50.472H247.68V55.691H246.96ZM247.68 49.356H248.4V50.472H247.68ZM247.68 50.472H248.4V53.147H247.68ZM248.4 49.356H249.12V50.472H248.4ZM249.12 49.356H249.84V50.472H249.12ZM249.12 50.472H249.84V55.434H249.12ZM249.84 49.356H250.56V50.472H249.84ZM249.84 50.472H250.56V56.341H249.84ZM250.56 49.356H251.28V50.472H250.56ZM250.56 50.472H251.28V57.94H250.56ZM251.28 49.356H252V50.472H251.28ZM251.28 50.472H252V55.923H251.28ZM252 49.356H252.72V50.472H252ZM252 50.472H252.72V58.147H252ZM252.72 49.356H253.44V50.472H252.72ZM252.72 50.472H253.44V57.312H252.72ZM253.44 49.356H254.16V50.472H253.44ZM253.44 50.472H254.16V55.533H253.44ZM254.16 49.356H254.88V50.472H254.16ZM254.16 50.472H254.88V54.833H254.16ZM254.88 49.356H255.6V50.472H254.88ZM254.88 50.472H255.6V55.573H254.88ZM255.6 49.356H256.32V50.472H255.6ZM255.6 50.472H256.32V54.102H255.6ZM256.32 49.356H257.04V50.472H256.32ZM256.32 50.472H257.04V58.002H256.32ZM257.04 49.356H257.76V50.472H257.04ZM257.04 50.472H257.76V53.808H257.04ZM257.76 49.356H258.48V50.472H257.76ZM257.76 50.472H258.48V55.667H257.76ZM258.48 49.356H259.2V50.472H258.48ZM258.48 50.472H259.2V55.044H258.48ZM259.2 49.356H259.92V50.472H259.2ZM259.2 50.472H259.92V54.783H259.2ZM259.92 49.356H260.64V50.472H259.92ZM259.92 50.472H260.64V55.412H259.92ZM260.64 49.356H261.36V50.472H260.64ZM260.64 50.472H261.36V55.832H260.64ZM261.36 49.356H262.08V50.472H261.36ZM261.36 50.472H262.08V54.071H261.36ZM262.08 49.356H262.8V50.472H262.08ZM262.08 50.472H262.8V55.875H262.08ZM262.8 49.356H263.52V50.472H262.8ZM262.8 50.472H263.52V54.352H262.8ZM263.52 49.356H264.24V50.472H263.52ZM263.52 50.472H264.24V56.593H263.52ZM264.24 49.356H264.96V50.472H264.24ZM264.24 50.472H264.96V54.757H264.24ZM264.96 49.356H265.68V50.472H264.96ZM264.96 50.472H265.68V56.495H264.96ZM265.68 49.356H266.4V50.472H265.68ZM265.68 50.472H266.4V54.629H265.68ZM266.4 49.356H267.12V50.472H266.4ZM266.4 50.472H267.12V55.099H266.4ZM267.12 49.356H267.84V50.472H267.12ZM267.12 50.472H267.84V57.55H267.12ZM267.84 49.356H268.56V50.472H267.84ZM267.84 50.472H268.56V54.571H267.84ZM268.56 49.356H269.28V50.472H268.56ZM268.56 50.472H269.28V54.065H268.56ZM269.28 49.356H270V50.472H269.28ZM269.28 50.472H270V55.805H269.28ZM270 49.356H270.72V50.472H270ZM270 50.472H270.72V55.397H270ZM270.72 49.356H271.44V50.472H270.72ZM271.44 49.356H272.16V50.472H271.44ZM271.44 50.472H272.16V55.848H271.44ZM272.16 49.356H272.88V50.472H272.16ZM272.16 50.472H272.88V55.212H272.16ZM272.88 49.356H273.6V50.472H272.88ZM272.88 50.472H273.6V57.386H272.88ZM273.6 49.356H274.32V50.472H273.6ZM274.32 49.356H275.04V50.472H274.32ZM274.32 50.472H275.04V53.373H274.32ZM275.04 49.356H275.76V50.472H275.04ZM275.04 50.472H275.76V54.042H275.04ZM275.76 49.356H276.48V50.472H275.76ZM275.76 50.472H276.48V52.981H275.76ZM276.48 49.356H277.2V50.472H276.48ZM276.48 50.472H277.2V52.794H276.48ZM277.2 49.356H277.92V50.472H277.2ZM277.2 50.472H277.92V55.988H277.2ZM277.92 49.356H278.64V50.472H277.92ZM277.92 50.472H278.64V55.128H277.92ZM278.64 49.356H279.36V50.472H278.64ZM278.64 50.472H279.36V57.468H278.64ZM279.36 49.356H280.08V50.472H279.36ZM279.36 50.472H280.08V55.904H279.36ZM280.08 49.356H280.8V50.472H280.08ZM280.08 50.472H280.8V55.262H280.08ZM280.8 49.356H281.52V50.472H280.8ZM280.8 50.472H281.52V55.108H280.8ZM281.52 49.356H282.24V50.472H281.52ZM281.52 50.472H282.24V54.961H281.52ZM282.24 49.356H282.96V50.472H282.24ZM282.24 50.472H282.96V57.08H282.24ZM282.96 49.356H283.68V50.472H282.96ZM282.96 50.472H283.68V54.074H282.96ZM283.68 49.356H284.4V50.472H283.68ZM283.68 50.472H284.4V55.444H283.68ZM284.4 49.356H285.12V50.472H284.4ZM284.4 50.472H285.12V55.64H284.4ZM285.12 49.356H285.84V50.472H285.12ZM285.12 50.472H285.84V56.037H285.12ZM285.84 49.356H286.56V50.472H285.84ZM285.84 50.472H286.56V53.738H285.84ZM286.56 49.356H287.28V50.472H286.56ZM286.56 50.472H287.28V54.024H286.56ZM287.28 49.356H288V50.472H287.28ZM287.28 50.472H288V58.155H287.28ZM288 49.356H288.72V50.472H288ZM288 50.472H288.72V57.195H288ZM288.72 49.356H289.44V50.472H288.72ZM289.44 49.356H290.16V50.472H289.44ZM289.44 50.472H290.16V56.001H289.44ZM290.16 49.356H290.88V50.472H290.16ZM290.16 50.472H290.88V57.566H290.16ZM290.88 49.356H291.6V50.472H290.88ZM290.88 50.472H291.6V54.417H290.88ZM291.6 49.356H292.32V50.472H291.6ZM292.32 49.356H293.04V50.472H292.32ZM292.32 50.472H293.04V56.16H292.32ZM293.04 49.356H293.76V50.472H293.04ZM293.04 50.472H293.76V56.179H293.04ZM293.76 49.356H294.48V50.472H293.76ZM293.76 50.472H294.48V54.7H293.76ZM294.48 49.356H295.2V50.472H294.48ZM294.48 50.472H295.2V57.756H294.48ZM295.2 49.356H295.92V50.472H295.2ZM295.2 50.472H295.92V56.135H295.2ZM295.92 49.356H296.64V50.472H295.92ZM295.92 50.472H296.64V54.987H295.92ZM296.64 49.356H297.36V50.472H296.64ZM296.64 50.472H297.36V54.997H296.64ZM297.36 49.356H298.08V50.472H297.36ZM297.36 50.472H298.08V55.506H297.36ZM298.08 49.356H298.8V50.472H298.08ZM298.08 50.472H298.8V55.682H298.08ZM298.8 49.356H299.52V50.472H298.8ZM298.8 50.472H299.52V57.014H298.8ZM299.52 49.356H300.24V50.472H299.52ZM299.52 50.472H300.24V54.735H299.52ZM300.24 49.356H300.96V50.472H300.24ZM300.24 50.472H300.96V55.295H300.24ZM300.96 49.356H301.68V50.472H300.96ZM300.96 50.472H301.68V53.353H300.96ZM301.68 49.356H302.4V50.472H301.68ZM301.68 50.472H302.4V53.305H301.68ZM302.4 49.356H303.12V50.472H302.4ZM302.4 50.472H303.12V53.551H302.4ZM303.12 49.356H303.84V50.472H303.12ZM303.12 50.472H303.84V55.286H303.12ZM303.84 49.356H304.56V50.472H303.84ZM303.84 50.472H304.56V56.323H303.84ZM304.56 49.356H305.28V50.472H304.56ZM305.28 49.356H306V50.472H305.28ZM305.28 50.472H306V57.209H305.28ZM306 49.356H306.72V50.472H306ZM306 50.472H306.72V56.478H306ZM306.72 49.356H307.44V50.472H306.72ZM306.72 50.472H307.44V55.389H306.72ZM307.44 49.356H308.16V50.472H307.44ZM307.44 50.472H308.16V58.071H307.44ZM308.16 49.356H308.88V50.472H308.16ZM308.16 50.472H308.88V56.524H308.16ZM308.88 49.356H309.6V50.472H308.88ZM308.88 50.472H309.6V57.301H308.88ZM309.6 49.356H310.32V50.472H309.6ZM309.6 50.472H310.32V56.736H309.6ZM310.32 49.356H311.04V50.472H310.32ZM310.32 50.472H311.04V53.7H310.32ZM311.04 49.356H311.76V50.472H311.04ZM311.04 50.472H311.76V53.212H311.04ZM311.76 49.356H312.48V50.472H311.76ZM311.76 50.472H312.48V55.275H311.76ZM312.48 49.356H313.2V50.472H312.48ZM312.48 50.472H313.2V55.671H312.48ZM313.2 49.356H313.92V50.472H313.2ZM313.2 50.472H313.92V53.48H313.2ZM313.92 49.356H314.64V50.472H313.92ZM313.92 50.472H314.64V53.596H313.92ZM314.64 49.356H315.36V50.472H314.64ZM314.64 50.472H315.36V54.915H314.64ZM315.36 49.356H316.08V50.472H315.36ZM315.36 50.472H316.08V56.202H315.36ZM316.08 49.356H316.8V50.472H316.08ZM316.08 50.472H316.8V55.716H316.08ZM316.8 49.356H317.52V50.472H316.8ZM316.8 50.472H317.52V55.687H316.8ZM317.52 49.356H318.24V50.472H317.52ZM317.52 50.472H318.24V55.591H317.52ZM318.24 49.356H318.96V50.472H318.24ZM318.24 50.472H318.96V55.609H318.24ZM318.96 49.356H319.68V50.472H318.96ZM318.96 50.472H319.68V56.733H318.96ZM319.68 49.356H320.4V50.472H319.68ZM319.68 50.472H320.4V54.308H319.68ZM320.4 49.356H321.12V50.472H320.4ZM320.4 50.472H321.12V55.908H320.4ZM321.12 49.356H321.84V50.472H321.12ZM321.12 50.472H321.84V54.438H321.12ZM321.84 49.356H322.56V50.472H321.84ZM321.84 50.472H322.56V55.069H321.84ZM322.56 49.356H323.28V50.472H322.56ZM322.56 50.472H323.28V55.587H322.56ZM323.28 49.356H324V50.472H323.28ZM323.28 50.472H324V57.631H323.28ZM324 49.356H324.72V50.472H324ZM324 50.472H324.72V55.451H324ZM324.72 49.356H325.44V50.472H324.72ZM324.72 50.472H325.44V55.344H324.72ZM325.44 49.356H326.16V50.472H325.44ZM325.44 50.472H326.16V57.828H325.44ZM326.16 49.356H326.88V50.472H326.16ZM326.16 50.472H326.88V56.005H326.16ZM326.88 49.356H327.6V50.472H326.88ZM326.88 50.472H327.6V55.225H326.88ZM327.6 49.356H328.32V50.472H327.6ZM327.6 50.472H328.32V57.737H327.6ZM328.32 49.356H329.04V50.472H328.32ZM328.32 50.472H329.04V55.161H328.32ZM329.04 49.356H329.76V50.472H329.04ZM329.04 50.472H329.76V54.287H329.04ZM329.76 49.356H330.48V50.472H329.76ZM329.76 50.472H330.48V53.913H329.76ZM330.48 49.356H331.2V50.472H330.48ZM330.48 50.472H331.2V54.055H330.48ZM331.2 49.356H331.92V50.472H331.2ZM331.2 50.472H331.92V54.378H331.2ZM331.92 49.356H332.64V50.472H331.92ZM331.92 50.472H332.64V55.604H331.92ZM332.64 49.356H333.36V50.472H332.64ZM333.36 49.356H334.08V50.472H333.36ZM333.36 50.472H334.08V54.904H333.36ZM334.08 49.356H334.8V50.472H334.08ZM334.08 50.472H334.8V57.455H334.08ZM334.8 49.356H335.52V50.472H334.8ZM334.8 50.472H335.52V55.999H334.8ZM335.52 49.356H336.24V50.472H335.52ZM335.52 50.472H336.24V55.941H335.52ZM336.24 49.356H336.96V50.472H336.24ZM336.24 50.472H336.96V55.662H336.24ZM336.96 49.356H337.68V50.472H336.96ZM336.96 50.472H337.68V52.557H336.96ZM337.68 49.356H338.4V50.472H337.68ZM337.68 50.472H338.4V56.514H337.68ZM338.4 49.356H339.12V50.472H338.4ZM338.4 50.472H339.12V53.065H338.4ZM339.12 49.356H339.84V50.472H339.12ZM339.12 50.472H339.84V52.206H339.12ZM339.84 49.356H340.56V50.472H339.84ZM339.84 50.472H340.56V58.074H339.84ZM340.56 49.356H341.28V50.472H340.56ZM340.56 50.472H341.28V53.879H340.56ZM341.28 49.356H342V50.472H341.28ZM341.28 50.472H342V57.177H341.28ZM342 49.356H342.72V50.472H342ZM342 50.472H342.72V55.43H342ZM342.72 49.356H343.44V50.472H342.72ZM342.72 50.472H343.44V56.234H342.72ZM343.44 49.356H344.16V50.472H343.44ZM343.44 50.472H344.16V55.525H343.44ZM344.16 49.356H344.88V50.472H344.16ZM344.16 50.472H344.88V57.659H344.16ZM344.88 49.356H345.6V50.472H344.88ZM344.88 50.472H345.6V55.871H344.88ZM345.6 49.356H346.32V50.472H345.6ZM346.32 49.356H347.04V50.472H346.32ZM346.32 50.472H347.04V55.204H346.32ZM347.04 49.356H347.76V50.472H347.04ZM347.04 50.472H347.76V56.081H347.04ZM347.76 49.356H348.48V50.472H347.76ZM347.76 50.472H348.48V54.787H347.76ZM348.48 49.356H349.2V50.472H348.48ZM348.48 50.472H349.2V55.098H348.48ZM349.2 49.356H349.92V50.472H349.2ZM349.2 50.472H349.92V55.792H349.2ZM349.92 49.356H350.64V50.472H349.92ZM349.92 50.472H350.64V55.011H349.92ZM350.64 49.356H351.36V50.472H350.64ZM350.64 50.472H351.36V57.727H350.64ZM351.36 49.356H352.08V50.472H351.36ZM351.36 50.472H352.08V55.091H351.36ZM352.08 49.356H352.8V50.472H352.08ZM352.08 50.472H352.8V54.455H352.08ZM352.8 49.356H353.52V50.472H352.8ZM352.8 50.472H353.52V55.769H352.8ZM353.52 49.356H354.24V50.472H353.52ZM353.52 50.472H354.24V55.981H353.52ZM354.24 49.356H354.96V50.472H354.24ZM354.24 50.472H354.96V57.435H354.24ZM354.96 49.356H355.68V50.472H354.96ZM354.96 50.472H355.68V56.104H354.96ZM355.68 49.356H356.4V50.472H355.68ZM355.68 50.472H356.4V55.861H355.68ZM356.4 49.356H357.12V50.472H356.4ZM356.4 50.472H357.12V55.748H356.4ZM357.12 49.356H357.84V50.472H357.12ZM357.12 50.472H357.84V54.197H357.12ZM357.84 49.356H358.56V50.472H357.84ZM357.84 50.472H358.56V56.105H357.84ZM358.56 49.356H359.28V50.472H358.56ZM358.56 50.472H359.28V55.269H358.56ZM359.28 49.356H360V50.472H359.28ZM359.28 50.472H360V53.713H359.28ZM360 49.356H360.72V50.472H360ZM360 50.472H360.72V56.469H360ZM360.72 49.356H361.44V50.472H360.72ZM360.72 50.472H361.44V53.644H360.72ZM361.44 49.356H362.16V50.472H361.44ZM361.44 50.472H362.16V52.922H361.44ZM362.16 49.356H362.88V50.472H362.16ZM362.16 50.472H362.88V55.425H362.16ZM362.88 49.356H363.6V50.472H362.88ZM362.88 50.472H363.6V56.247H362.88ZM363.6 49.356H364.32V50.472H363.6ZM363.6 50.472H364.32V52.933H363.6ZM364.32 49.356H365.04V50.472H364.32ZM364.32 50.472H365.04V52.432H364.32ZM365.04 49.356H365.76V50.472H365.04ZM365.04 50.472H365.76V53.123H365.04ZM365.76 49.356H366.48V50.472H365.76ZM366.48 49.356H367.2V50.472H366.48ZM366.48 50.472H367.2V56.669H366.48ZM367.2 49.356H367.92V50.472H367.2ZM367.2 50.472H367.92V53.027H367.2ZM367.92 49.356H368.64V50.472H367.92ZM367.92 50.472H368.64V54.654H367.92ZM368.64 49.356H369.36V50.472H368.64ZM368.64 50.472H369.36V54.931H368.64ZM369.36 49.356H370.08V50.472H369.36ZM369.36 50.472H370.08V53.665H369.36ZM370.08 49.356H370.8V50.472H370.08ZM370.08 50.472H370.8V54.614H370.08ZM370.8 49.356H371.52V50.472H370.8ZM370.8 50.472H371.52V57.151H370.8ZM371.52 49.356H372.24V50.472H371.52ZM371.52 50.472H372.24V54.904H371.52ZM372.24 49.356H372.96V50.472H372.24ZM372.96 49.356H373.68V50.472H372.96ZM372.96 50.472H373.68V57.245H372.96ZM373.68 49.356H374.4V50.472H373.68ZM373.68 50.472H374.4V55.868H373.68ZM374.4 49.356H375.12V50.472H374.4ZM374.4 50.472H375.12V54.741H374.4ZM375.12 49.356H375.84V50.472H375.12ZM375.12 50.472H375.84V54.916H375.12ZM375.84 49.356H376.56V50.472H375.84ZM375.84 50.472H376.56V54.439H375.84ZM376.56 49.356H377.28V50.472H376.56ZM376.56 50.472H377.28V55.142H376.56ZM377.28 49.356H378V50.472H377.28ZM377.28 50.472H378V57.114H377.28ZM378 49.356H378.72V50.472H378ZM378 50.472H378.72V57.396H378ZM378.72 49.356H379.44V50.472H378.72ZM378.72 50.472H379.44V54.761H378.72ZM379.44 49.356H380.16V50.472H379.44ZM379.44 50.472H380.16V55.671H379.44ZM380.16 49.356H380.88V50.472H380.16ZM380.16 50.472H380.88V55.76H380.16ZM380.88 49.356H381.6V50.472H380.88ZM380.88 50.472H381.6V56.172H380.88ZM381.6 49.356H382.32V50.472H381.6ZM381.6 50.472H382.32V54.251H381.6ZM382.32 49.356H383.04V50.472H382.32ZM382.32 50.472H383.04V55.679H382.32ZM383.04 49.356H383.76V50.472H383.04ZM383.04 50.472H383.76V55.909H383.04ZM383.76 49.356H384.48V50.472H383.76ZM383.76 50.472H384.48V54.682H383.76ZM384.48 49.356H385.2V50.472H384.48ZM384.48 50.472H385.2V54.678H384.48ZM385.2 49.356H385.92V50.472H385.2ZM385.2 50.472H385.92V55.033H385.2ZM385.92 49.356H386.64V50.472H385.92ZM385.92 50.472H386.64V56.145H385.92ZM386.64 49.356H387.36V50.472H386.64ZM387.36 49.356H388.08V50.472H387.36ZM387.36 50.472H388.08V56.725H387.36ZM388.08 49.356H388.8V50.472H388.08ZM388.08 50.472H388.8V53.571H388.08ZM388.8 49.356H389.52V50.472H388.8ZM388.8 50.472H389.52V53.212H388.8ZM389.52 49.356H390.24V50.472H389.52ZM389.52 50.472H390.24V53.557H389.52ZM390.24 49.356H390.96V50.472H390.24ZM390.24 50.472H390.96V57.354H390.24ZM390.96 49.356H391.68V50.472H390.96ZM390.96 50.472H391.68V57.315H390.96ZM391.68 49.356H392.4V50.472H391.68ZM391.68 50.472H392.4V54.283H391.68ZM392.4 49.356H393.12V50.472H392.4ZM392.4 50.472H393.12V53.934H392.4ZM393.12 49.356H393.84V50.472H393.12ZM393.12 50.472H393.84V55.491H393.12ZM393.84 49.356H394.56V50.472H393.84ZM393.84 50.472H394.56V55.034H393.84ZM394.56 49.356H395.28V50.472H394.56ZM394.56 50.472H395.28V55.417H394.56ZM395.28 49.356H396V50.472H395.28ZM395.28 50.472H396V54.694H395.28ZM396 49.356H396.72V50.472H396ZM396 50.472H396.72V54.715H396ZM396.72 49.356H397.44V50.472H396.72ZM396.72 50.472H397.44V55.848H396.72ZM397.44 49.356H398.16V50.472H397.44ZM397.44 50.472H398.16V55.9H397.44ZM398.16 49.356H398.88V50.472H398.16ZM398.16 50.472H398.88V53.489H398.16ZM398.88 49.356H399.6V50.472H398.88ZM398.88 50.472H399.6V57.498H398.88ZM399.6 49.356H400.32V50.472H399.6ZM400.32 49.356H401.04V50.472H400.32ZM400.32 50.472H401.04V53.272H400.32ZM401.04 49.356H401.76V50.472H401.04ZM401.04 50.472H401.76V53.12H401.04ZM401.76 49.356H402.48V50.472H401.76ZM402.48 49.356H403.2V50.472H402.48ZM402.48 50.472H403.2V55.002H402.48ZM403.2 49.356H403.92V50.472H403.2ZM403.2 50.472H403.92V58.105H403.2ZM403.92 49.356H404.64V50.472H403.92ZM403.92 50.472H404.64V55.666H403.92ZM404.64 49.356H405.36V50.472H404.64ZM404.64 50.472H405.36V56.036H404.64ZM405.36 49.356H406.08V50.472H405.36ZM405.36 50.472H406.08V56.189H405.36ZM406.08 49.356H406.8V50.472H406.08ZM406.08 50.472H406.8V55.253H406.08ZM406.8 49.356H407.52V50.472H406.8ZM406.8 50.472H407.52V55.527H406.8ZM407.52 49.356H408.24V50.472H407.52ZM408.24 49.356H408.96V50.472H408.24ZM408.24 50.472H408.96V55.657H408.24ZM408.96 49.356H409.68V50.472H408.96ZM408.96 50.472H409.68V55.096H408.96ZM409.68 49.356H410.4V50.472H409.68ZM409.68 50.472H410.4V56.237H409.68ZM410.4 49.356H411.12V50.472H410.4ZM410.4 50.472H411.12V55.61H410.4ZM411.12 49.356H411.84V50.472H411.12ZM411.12 50.472H411.84V55.259H411.12ZM411.84 49.356H412.56V50.472H411.84ZM411.84 50.472H412.56V54.964H411.84ZM412.56 49.356H413.28V50.472H412.56ZM412.56 50.472H413.28V55.04H412.56ZM413.28 49.356H414V50.472H413.28ZM413.28 50.472H414V57.171H413.28ZM414 49.356H414.72V50.472H414ZM414 50.472H414.72V55.284H414Z" style="fill:#ff0000" /></g>
<g id="patch_3">
<path d="M57.56 41.72H58.36V100.12H57.56Z" style="fill:#000"/>
</g>
<g id="patch_4">
<path d="M414.68 41.72H415.48V100.12H414.68Z" style="fill:#000"/>
</g>
<g id="patch_5">
<path d="M57.56 99.32H415.48V100.12H57.56Z" style="fill:#000"/>
</g>
<g id="patch_6">
<path d="M57.56 41.72H415.48V42.52H57.56Z" style="fill:#000"/>
</g>
<g id="T14" transform="translate(0.011 -0.613)">
<g transform="translate(191.376563 35.472) scale(0.12 -0.12)">
<use href="#gl44"/>
<use href="#gl49" transform="translate(77.001953 0)"/>
<use href="#gl20" transform="translate(106.494141 0)"/>
<use href="#gl46" transform="translate(138.28125 0)"/>
<use href="#gl6c" transform="translate(195.800781 0)"/>
<use href="#gl6f" transform="translate(223.583984 0)"/>
<use href="#gl77" transform="translate(284.765625 0)"/>
<use href="#gl20" transform="translate(366.552734 0)"/>
<use href="#gl41" transform="translate(398.339844 0)"/>
<use href="#gl6c" transform="translate(466.748047 0)"/>
<use href="#gl61" transform="translate(494.53125 0)"/>
<use href="#gl72" transform="translate(555.810547 0)"/>
<use href="#gl6d" transform="translate(596.908203 0)"/>
<use href="#gl73" transform="translate(694.320312 0)"/>
</g>
</g>
</g>
<g id="axes_2">
<g id="patch_7">
<path d="M57.6 110.88H414.72V168.48H57.6Z" style="fill:#fff"/>
</g>
<g id="matplotlib.axis_3">
<g id="xtick_10">
<g id="line2d_12">
<g>
<path d="M87.8 168.84H88.6V172.44H87.8Z" style="fill:#000"/>
</g>
</g>
<g id="T15" transform="translate(-0.276 0.182)">
<g transform="translate(65.706198 183.341394) scale(0.1 -0.1)">
<use href="#gl31"/>
<use href="#gl30" transform="translate(63.623047 0)"/>
<use href="#gl2d" transform="translate(127.246094 0)"/>
<use href="#gl31" transform="translate(163.330078 0)"/>
<use href="#gl34" transform="translate(226.953125 0)"/>
<use href="#gl20" transform="translate(290.576172 0)"/>
<use href="#gl31" transform="translate(322.363281 0)"/>
<use href="#gl35" transform="translate(385.986328 0)"/>
</g>
</g>
</g>
<g id="xtick_11">
<g id="line2d_13">
<g>
<path d="M128.12 168.84H128.92V172.44H128.12Z" style="fill:#000"/>
</g>
</g>
<g id="T16" transform="translate(-0.36 0.173)">
<g transform="translate(105.386198 183.341394) scale(0.1 -0.1)">
<use href="#gl31"/>
<use href="#gl30" transform="translate(63.623047 0)"/>
<use href="#gl2d" transform="translate(127.246094 0)"/>
<use href="#gl31" transform="translate(163.330078 0)"/>
<use href="#gl34" transform="translate(226.953125 0)"/>
<use href="#gl20" transform="translate(290.576172 0)"/>
<use href="#gl31" transform="translate(322.363281 0)"/>
<use href="#gl39" transform="translate(385.986328 0)"/>
</g>
</g>
</g>
<g id="xtick_12">
<g id="line2d_14">
<g>
<path d="M167.72 168.84H168.52V172.44H167.72Z" style="fill:#000"/>
</g>
</g>
<g id="T17" transform="translate(0.26 0.239)">
<g transform="translate(145.066198 183.341394) scale(0.1 -0.1)">
<use href="#gl31"/>
<use href="#gl30" transform="translate(63.623047 0)"/>
<use href="#gl2d" transform="translate(127.246094 0)"/>
<use href="#gl31" transform="translate(163.330078 0)"/>
<use href="#gl34" transform="translate(226.953125 0)"/>
<use href="#gl20" transform="translate(290.576172 0)"/>
<use href="#gl32" transform="translate(322.363281 0)"/>
<use href="#gl33" transform="translate(385.986328 0)"/>
</g>
</g>
</g>
<g id="xtick_13">
<g id="line2d_15">
<g>
<path d="M207.32 168.84H208.12V172.44H207.32Z" style="fill:#000"/>
</g>
</g>
<g id="T18" transform="translate(0.178 0.243)">
<g transform="translate(184.746198 183.341394) scale(0.1 -0.1)">
<use href="#gl31"/>
<use href="#gl30" transform="translate(63.623047 0)"/>
<use href="#gl2d" transform="translate(127.246094 0)"/>
<use href="#gl31" transform="translate(163.330078 0)"/>
<use href="#gl35" transform="translate(226.953125 0)"/>
<use href="#gl20" transform="translate(290.576172 0)"/>
<use href="#gl30" transform="translate(322.363281 0)"/>
<use href="#gl33" transform="translate(385.986328 0)"/>
</g>
</g>
</g>
<g id="xtick_14">
<g id="line2d_16">
<g>
<path d="M246.92 168.84H247.72V172.44H246.92Z" style="fill:#000"/>
</g>
</g>
<g id="T19" transform="translate(0.099 0.215)">
<g transform="translate(224.426198 183.341394) scale(0.1 -0.1)">
<use href="#gl31"/>
<use href="#gl30" transform="translate(63.623047 0)"/>
<use href="#gl2d" transform="translate(127.246094 0)"/>
<use href="#gl31" transform="translate(163.330078 0)"/>
<use href="#gl35" transform="translate(226.953125 0)"/>
<use href="#gl20" transform="translate(290.576172 0)"/>
<use href="#gl30" transform="translate(322.363281 0)"/>
<use href="#gl37" transform="translate(385.986328 0)"/>
</g>
</g>
</g>
<g id="xtick_15">
<g id="line2d_17">
<g>
<path d="M286.52 168.84H287.32V172.44H286.52Z" style="fill:#000"/>
</g>
</g>
<g id="T20" transform="translate(0.047 0.275)">
<g transform="translate(264.106198 183.341394) scale(0.1 -0.1)">
<use href="#gl31"/>
<use href="#gl30" transform="translate(63.623047 0)"/>
<use href="#gl2d" transform="translate(127.246094 0)"/>
<use href="#gl31" transform="translate(163.330078 0)"/>
<use href="#gl35" transform="translate(226.953125 0)"/>
<use href="#gl20" transform="translate(290.576172 0)"/>
<use href="#gl31" transform="translate(322.363281 0)"/>
<use href="#gl31" transform="translate(385.986328 0)"/>
</g>
</g>
</g>
<g id="xtick_16">
<g id="line2d_18">
<g>
<path d="M326.12 168.84H326.92V172.44H326.12Z" style="fill:#000"/>
</g>
</g>
<g id="T21" transform="translate(-0.037 0.191)">
<g transform="translate(303.786198 183.341394) scale(0.1 -0.1)">
<use href="#gl31"/>
<use href="#gl30" transform="translate(63.623047 0)"/>
<use href="#gl2d" transform="translate(127.246094 0)"/>
<use href="#gl31" transform="translate(163.330078 0)"/>
<use href="#gl35" transform="translate(226.953125 0)"/>
<use href="#gl20" transform="translate(290.576172 0)"/>
<use href="#gl31" transform="translate(322.363281 0)"/>
<use href="#gl35" transform="translate(385.986328 0)"/>
</g>
</g>
</g>
<g id="xtick_17">
<g id="line2d_19">
<g>
<path d="M365.72 168.84H366.52V172.44H365.72Z" style="fill:#000"/>
</g>
</g>
<g id="T22" transform="translate(-0.118 0.24)">
<g transform="translate(343.466198 183.341394) scale(0.1 -0.1)">
<use href="#gl31"/>
<use href="#gl30" transform="translate(63.623047 0)"/>
<use href="#gl2d" transform="translate(127.246094 0)"/>
<use href="#gl31" transform="translate(163.330078 0)"/>
<use href="#gl35" transform="translate(226.953125 0)"/>
<use href="#gl20" transform="translate(290.576172 0)"/>
<use href="#gl31" transform="translate(322.363281 0)"/>
<use href="#gl39" transform="translate(385.986328 0)"/>
</g>
</g>
</g>
<g id="xtick_18">
<g id="line2d_20">
<g>
<path d="M405.32 168.84H406.12V172.44H405.32Z" style="fill:#000"/>
</g>
</g>
<g id="T23" transform="translate(-0.186 0.259)">
<g transform="translate(383.146198 183.341394) scale(0.1 -0.1)">
<use href="#gl31"/>
<use href="#gl30" transform="translate(63.623047 0)"/>
<use href="#gl2d" transform="translate(127.246094 0)"/>
<use href="#gl31" transform="translate(163.330078 0)"/>
<use href="#gl35" transform="translate(226.953125 0)"/>
<use href="#gl20" transform="translate(290.576172 0)"/>
<use href="#gl32" transform="translate(322.363281 0)"/>
<use href="#gl33" transform="translate(385.986328 0)"/>
</g>
</g>
</g>
</g>
<g id="matplotlib.axis_4">
<g id="ytick_3">
<g id="line2d_21">
<g>
<path d="M54.36 149.72H57.96V150.52H54.36Z" style="fill:#000"/>
</g>
</g>
<g id="T25" transform="translate(0.362 0.069)">
<g transform="translate(44.2375 153.258697) scale(0.1 -0.1)">
<use href="#gl30"/>
</g>
</g>
</g>
<g id="ytick_4">
<g id="line2d_22">
<g>
<path d="M54.36 110.84H57.96V111.64H54.36Z" style="fill:#000"/>
</g>
</g>
<g id="T26" transform="translate(0.404 0.577)">
<g transform="translate(44.2375 114.69174) scale(0.1 -0.1)">
<use href="#gl32"/>
</g>
</g>
</g>
<g id="T27" transform="translate(-0.8 1.123)">
<g transform="translate(38.157812 175.28102) rotate(-90) scale(0.1 -0.1)">
<use href="#gl4c"/>
<use href="#gl6f" transform="translate(55.697266 0)"/>
<use href="#gl77" transform="translate(116.878906 0)"/>
<use href="#gl20" transform="translate(198.666016 0)"/>
<use href="#gl46" transform="translate(230.453125 0)"/>
<use href="#gl6c" transform="translate(287.972656 0)"/>
<use href="#gl6f" transform="translate(315.755859 0)"/>
<use href="#gl77" transform="translate(376.9375 0)"/>
<use href="#gl20" transform="translate(458.724609 0)"/>
<use href="#gl42" transform="translate(490.511719 0)"/>
<use href="#gl6f" transform="translate(559.115234 0)"/>
<use href="#gl6f" transform="translate(620.296875 0)"/>
<use href="#gl6c" transform="translate(681.478516 0)"/>
</g>
</g>
</g>
<g id="data2"><path d="M57.6 129.924H414.72V130.428H57.6Z" style="fill:#ff0000"/></g>
<g id="patch_8">
<path d="M57.56 110.84H58.36V169.24H57.56Z" style="fill:#000"/>
</g>
<g id="patch_9">
<path d="M414.68 110.84H415.48V169.24H414.68Z" style="fill:#000"/>
</g>
<g id="patch_10">
<path d="M57.56 168.44H415.48V169.24H57.56Z" style="fill:#000"/>
</g>
<g id="patch_11">
<path d="M57.56 110.84H415.48V111.64H57.56Z" style="fill:#000"/>
</g>
</g>
<g id="axes_3">
<g id="patch_12">
<path d="M57.6 180H414.72V238.32H57.6Z" style="fill:#fff"/>
</g>
<g id="matplotlib.axis_5">
<g id="xtick_19">
<g id="line2d_23">
<g>
<path d="M87.8 238.68H88.6V242.28H87.8Z" style="fill:#000"/>
</g>
</g>
<g id="T28" transform="translate(-0.28 0.583)">
<g transform="translate(65.706198 252.761916) scale(0.1 -0.1)">
<use href="#gl31"/>
<use href="#gl30" transform="translate(63.623047 0)"/>
<use href="#gl2d" transform="translate(127.246094 0)"/>
<use href="#gl31" transform="translate(163.330078 0)"/>
<use href="#gl34" transform="translate(226.953125 0)"/>
<use href="#gl20" transform="translate(290.576172 0)"/>
<use href="#gl31" transform="translate(322.363281 0)"/>
<use href="#gl35" transform="translate(385.986328 0)"/>
</g>
</g>
</g>
<g id="xtick_20">
<g id="line2d_24">
<g>
<path d="M128.12 238.68H128.92V242.28H128.12Z" style="fill:#000"/>
</g>
</g>
<g id="T29" transform="translate(-0.362 0.646)">
<g transform="translate(105.386198 252.761916) scale(0.1 -0.1)">
<use href="#gl31"/>
<use href="#gl30" transform="translate(63.623047 0)"/>
<use href="#gl2d" transform="translate(127.246094 0)"/>
<use href="#gl31" transform="translate(163.330078 0)"/>
<use href="#gl34" transform="translate(226.953125 0)"/>
<use href="#gl20" transform="translate(290.576172 0)"/>
<use href="#gl31" transform="translate(322.363281 0)"/>
<use href="#gl39" transform="translate(385.986328 0)"/>
</g>
</g>
</g>
<g id="xtick_21">
<g id="line2d_25">
<g>
<path d="M167.72 238.68H168.52V242.28H167.72Z" style="fill:#000"/>
</g>
</g>
<g id="T30" transform="translate(0.269 0.651)">
<g transform="translate(145.066198 252.761916) scale(0.1 -0.1)">
<use href="#gl31"/>
<use href="#gl30" transform="translate(63.623047 0)"/>
<use href="#gl2d" transform="translate(127.246094 0)"/>
<use href="#gl31" transform="translate(163.330078 0)"/>
<use href="#gl34" transform="translate(226.953125 0)"/>
<use href="#gl20" transform="translate(290.576172 0)"/>
<use href="#gl32" transform="translate(322.363281 0)"/>
<use href="#gl33" transform="translate(385.986328 0)"/>
</g>
</g>
</g>
<g id="xtick_22">
<g id="line2d_26">
<g>
<path d="M207.32 238.68H208.12V242.28H207.32Z" style="fill:#000"/>
</g>
</g>
<g id="T31" transform="translate(0.169 0.66)">
<g transform="translate(184.746198 252.761916) scale(0.1 -0.1)">
<use href="#gl31"/>
<use href="#gl30" transform="translate(63.623047 0)"/>
<use href="#gl2d" transform="translate(127.246094 0)"/>
<use href="#gl31" transform="translate(163.330078 0)"/>
<use href="#gl35" transform="translate(226.953125 0)"/>
<use href="#gl20" transform="translate(290.576172 0)"/>
<use href="#gl30" transform="translate(322.363281 0)"/>
<use href="#gl33" transform="translate(385.986328 0)"/>
</g>
</g>
</g>
<g id="xtick_23">
<g id="line2d_27">
<g>
<path d="M246.92 238.68H247.72V242.28H246.92Z" style="fill:#000"/>
</g>
</g>
<g id="T32" transform="translate(0.093 0.681)">
<g transform="translate(224.426198 252.761916) scale(0.1 -0.1)">
<use href="#gl31"/>
<use href="#gl30" transform="translate(63.623047 0)"/>
<use href="#gl2d" transform="translate(127.246094 0)"/>
<use href="#gl31" transform="translate(163.330078 0)"/>
<use href="#gl35" transform="translate(226.953125 0)"/>
<use href="#gl20" transform="translate(290.576172 0)"/>
<use href="#gl30" transform="translate(322.363281 0)"/>
<use href="#gl37" transform="translate(385.986328 0)"/>
</g>
</g>
</g>
<g id="xtick_24">
<g id="line2d_28">
<g>
<path d="M286.52 238.68H287.32V242.28H286.52Z" style="fill:#000"/>
</g>
</g>
<g id="T33" transform="translate(0.038 0.692)">
<g transform="translate(264.106198 252.761916) scale(0.1 -0.1)">
<use href="#gl31"/>
<use href="#gl30" transform="translate(63.623047 0)"/>
<use href="#gl2d" transform="translate(127.246094 0)"/>
<use href="#gl31" transform="translate(163.330078 0)"/>
<use href="#gl35" transform="translate(226.953125 0)"/>
<use href="#gl20" transform="translate(290.576172 0)"/>
<use href="#gl31" transform="translate(322.363281 0)"/>
<use href="#gl31" transform="translate(385.986328 0)"/>
</g>
</g>
</g>
<g id="xtick_25">
<g id="line2d_29">
<g>
<path d="M326.12 238.68H326.92V242.28H326.12Z" style="fill:#000"/>
</g>
</g>
<g id="T34" transform="translate(-0.022 0.61)">
<g transform="translate(303.786198 252.761916) scale(0.1 -0.1)">
<use href="#gl31"/>
<use href="#gl30" transform="translate(63.623047 0)"/>
<use href="#gl2d" transform="translate(127.246094 0)"/>
<use href="#gl31" transform="translate(163.330078 0)"/>
<use href="#gl35" transform="translate(226.953125 0)"/>
<use href="#gl20" transform="translate(290.576172 0)"/>
<use href="#gl31" transform="translate(322.363281 0)"/>
<use href="#gl35" transform="translate(385.986328 0)"/>
</g>
</g>
</g>
<g id="xtick_26">
<g id="line2d_30">
<g>
<path d="M365.72 238.68H366.52V242.28H365.72Z" style="fill:#000"/>
</g>
</g>
<g id="T35" transform="translate(-0.103 0.592)">
<g transform="translate(343.466198 252.761916) scale(0.1 -0.1)">
<use href="#gl31"/>
<use href="#gl30" transform="translate(63.623047 0)"/>
<use href="#gl2d" transform="translate(127.246094 0)"/>
<use href="#gl31" transform="translate(163.330078 0)"/>
<use href="#gl35" transform="translate(226.953125 0)"/>
<use href="#gl20" transform="translate(290.576172 0)"/>
<use href="#gl31" transform="translate(322.363281 0)"/>
<use href="#gl39" transform="translate(385.986328 0)"/>
</g>
</g>
</g>
<g id="xtick_27">
<g id="line2d_31">
<g>
<path d="M405.32 238.68H406.12V242.28H405.32Z" style="fill:#000"/>
</g>
</g>
<g id="T36" transform="translate(-0.221 0.682)">
<g transform="translate(383.146198 252.761916) scale(0.1 -0.1)">
<use href="#gl31"/>
<use href="#gl30" transform="translate(63.623047 0)"/>
<use href="#gl2d" transform="translate(127.246094 0)"/>
<use href="#gl31" transform="translate(163.330078 0)"/>
<use href="#gl35" transform="translate(226.953125 0)"/>
<use href="#gl20" transform="translate(290.576172 0)"/>
<use href="#gl32" transform="translate(322.363281 0)"/>
<use href="#gl33" transform="translate(385.986328 0)"/>
</g>
</g>
</g>
</g>
<g id="matplotlib.axis_6">
<g id="ytick_5">
<g id="line2d_32">
<g>
<path d="M54.36 229.64H57.96V230.44H54.36Z" style="fill:#000"/>
</g>
</g>
<g id="T38" transform="translate(0.359 0.279)">
<g transform="translate(44.2375 233.698349) scale(0.1 -0.1)">
<use href="#gl30"/>
</g>
</g>
</g>
<g id="ytick_6">
<g id="line2d_33">
<g>
<path d="M54.36 188.6H57.96V189.4H54.36Z" style="fill:#000"/>
</g>
</g>
<g id="T39" transform="translate(0.405 -0.297)">
<g transform="translate(44.2375 192.37661) scale(0.1 -0.1)">
<use href="#gl35"/>
</g>
</g>
</g>
<g id="T41" transform="translate(-0.842 1.028)">
<g transform="translate(38.157812 246.634355) rotate(-90) scale(0.1 -0.1)">
<use href="#gl48"/>
<use href="#gl69" transform="translate(75.195312 0)"/>
<use href="#gl67" transform="translate(102.978516 0)"/>
<use href="#gl68" transform="translate(166.455078 0)"/>
<use href="#gl20" transform="translate(229.833984 0)"/>
<use href="#gl66" transform="translate(261.621094 0)"/>
<use href="#gl6c" transform="translate(296.826172 0)"/>
<use href="#gl6f" transform="translate(324.609375 0)"/>
<use href="#gl77" transform="translate(385.791016 0)"/>
<use href="#gl20" transform="translate(467.578125 0)"/>
<use href="#gl56" transform="translate(499.365234 0)"/>
<use href="#gl6f" transform="translate(567.664062 0)"/>
<use href="#gl6c" transform="translate(628.845703 0)"/>
<use href="#gl74" transform="translate(656.628906 0)"/>
<use href="#gl73" transform="translate(695.837891 0)"/>
</g>
</g>
</g>
<g id="data3"><path d="M57.6 229.104H414.72V229.608H57.6Z" style="fill:#660000;fill-opacity:0.9" /><path d="M123.12 197.305H123.84V229.608H123.12ZM155.52 199.331H156.24V229.608H155.52ZM192.24 195.321H192.96V229.608H192.24ZM239.04 195.246H239.76V229.608H239.04ZM270.72 193.927H271.44V229.608H270.72ZM273.6 199.232H274.32V229.608H273.6ZM288.72 200.268H289.44V229.608H288.72ZM304.56 196.61H305.28V229.608H304.56ZM386.64 199.464H387.36V229.608H386.64ZM399.6 200.822H400.32V229.608H399.6ZM407.52 194.799H408.24V229.608H407.52Z" style="fill:#660000;fill-opacity:0.5" /><path d="M71.28 196.536H72V229.608H71.28ZM79.2 194.689H79.92V229.608H79.2ZM82.08 194.871H82.8V229.608H82.08ZM92.16 201.068H92.88V229.608H92.16ZM154.08 200.34H154.8V229.608H154.08ZM159.12 196.565H159.84V229.608H159.12ZM169.92 196.229H170.64V229.608H169.92ZM185.76 196.168H186.48V229.608H185.76ZM205.2 200.337H205.92V229.608H205.2ZM206.64 199.928H207.36V229.608H206.64ZM235.44 196.423H236.16V229.608H235.44ZM259.92 194.339H260.64V229.608H259.92ZM263.52 201.182H264.24V229.608H263.52ZM266.4 196.572H267.12V229.608H266.4ZM281.52 196.083H282.24V229.608H281.52ZM339.12 198.746H339.84V229.608H339.12ZM353.52 196.616H354.24V229.608H353.52ZM375.84 194.279H376.56V229.608H375.84ZM377.28 195.912H378V229.608H377.28ZM394.56 194.216H395.28V229.608H394.56ZM403.2 195.341H403.92V229.608H403.2ZM408.96 194.926H409.68V229.608H408.96ZM411.12 195.098H411.84V229.608H411.12Z" style="fill:#660000;fill-opacity:0.78" /><path d="M57.6 197.209H58.32V229.608H57.6ZM58.32 199.711H59.04V229.608H58.32ZM59.04 196.951H59.76V229.608H59.04ZM59.76 199.865H60.48V229.608H59.76ZM60.48 200.096H61.2V229.608H60.48ZM61.2 195.862H61.92V229.608H61.2ZM61.92 199.183H62.64V229.608H61.92ZM62.64 198.258H63.36V229.608H62.64ZM63.36 199.886H64.08V229.608H63.36ZM64.08 199.817H64.8V229.608H64.08ZM64.8 195.177H65.52V229.608H64.8ZM65.52 196.088H66.24V229.608H65.52ZM66.24 194.36H66.96V229.608H66.24ZM66.96 199.329H67.68V229.608H66.96ZM67.68 200.04H68.4V229.608H67.68ZM68.4 194.313H69.12V229.608H68.4ZM69.12 200.204H69.84V229.608H69.12ZM69.84 195.025H70.56V229.608H69.84ZM70.56 195.055H71.28V229.608H70.56ZM72 194.181H72.72V229.608H72ZM72.72 194.312H73.44V229.608H72.72ZM73.44 196.353H74.16V229.608H73.44ZM74.16 196.415H74.88V229.608H74.16ZM74.88 196.556H75.6V229.608H74.88ZM75.6 199.259H76.32V229.608H75.6ZM76.32 196.378H77.04V229.608H76.32ZM77.04 195.965H77.76V229.608H77.04ZM77.76 196.672H78.48V229.608H77.76ZM78.48 194.201H79.2V229.608H78.48ZM79.92 199.697H80.64V229.608H79.92ZM80.64 199.544H81.36V229.608H80.64ZM81.36 198.996H82.08V229.608H81.36ZM82.8 198.491H83.52V229.608H82.8ZM83.52 197.019H84.24V229.608H83.52ZM84.24 196.369H84.96V229.608H84.24ZM84.96 195.563H85.68V229.608H84.96ZM85.68 199.132H86.4V229.608H85.68ZM86.4 198.701H87.12V229.608H86.4ZM87.12 196.356H87.84V229.608H87.12ZM87.84 195.543H88.56V229.608H87.84ZM88.56 198.836H89.28V229.608H88.56ZM89.28 199.154H90V229.608H89.28ZM90 197.567H90.72V229.608H90ZM90.72 196.383H91.44V229.608H90.72ZM91.44 197.265H92.16V229.608H91.44ZM92.88 196.554H93.6V229.608H92.88ZM93.6 197.05H94.32V229.608H93.6ZM94.32 194.235H95.04V229.608H94.32ZM95.04 195.671H95.76V229.608H95.04ZM95.76 196.163H96.48V229.608H95.76ZM96.48 194.112H97.2V229.608H96.48ZM97.2 198.852H97.92V229.608H97.2ZM97.92 196.575H98.64V229.608H97.92ZM98.64 199.851H99.36V229.608H98.64ZM99.36 200.313H100.08V229.608H99.36ZM100.08 195.653H100.8V229.608H100.08ZM100.8 197.31H101.52V229.608H100.8ZM101.52 195.437H102.24V229.608H101.52ZM102.24 199.931H102.96V229.608H102.24ZM102.96 199.103H103.68V229.608H102.96ZM103.68 199.612H104.4V229.608H103.68ZM104.4 194.934H105.12V229.608H104.4ZM105.12 201.017H105.84V229.608H105.12ZM105.84 201.874H106.56V229.608H105.84ZM106.56 194.501H107.28V229.608H106.56ZM107.28 200.581H108V229.608H107.28ZM108 197.544H108.72V229.608H108ZM108.72 198.485H109.44V229.608H108.72ZM109.44 194.101H110.16V229.608H109.44ZM110.88 197.386H111.6V229.608H110.88ZM111.6 199.454H112.32V229.608H111.6ZM112.32 196.443H113.04V229.608H112.32ZM113.04 195.034H113.76V229.608H113.04ZM113.76 194.638H114.48V229.608H113.76ZM114.48 194.818H115.2V229.608H114.48ZM115.2 199.758H115.92V229.608H115.2ZM115.92 193.963H116.64V229.608H115.92ZM116.64 197.134H117.36V229.608H116.64ZM117.36 196.022H118.08V229.608H117.36ZM118.08 200.654H118.8V229.608H118.08ZM118.8 194.676H119.52V229.608H118.8ZM119.52 196.347H120.24V229.608H119.52ZM120.24 200.813H120.96V229.608H120.24ZM120.96 201.306H121.68V229.608H120.96ZM121.68 200.474H122.4V229.608H121.68ZM122.4 200.425H123.12V229.608H122.4ZM123.84 200.96H124.56V229.608H123.84ZM124.56 199.592H125.28V229.608H124.56ZM125.28 199.466H126V229.608H125.28ZM126 200H126.72V229.608H126ZM126.72 195.729H127.44V229.608H126.72ZM127.44 196.444H128.16V229.608H127.44ZM130.32 195.103H131.04V229.608H130.32ZM131.04 197.165H131.76V229.608H131.04ZM131.76 195.376H132.48V229.608H131.76ZM132.48 199.59H133.2V229.608H132.48ZM133.2 197.408H133.92V229.608H133.2ZM133.92 200.079H134.64V229.608H133.92ZM134.64 194.277H135.36V229.608H134.64ZM135.36 196.73H136.08V229.608H135.36ZM136.08 196.389H136.8V229.608H136.08ZM136.8 199.167H137.52V229.608H136.8ZM137.52 197.127H138.24V229.608H137.52ZM138.24 195.703H138.96V229.608H138.24ZM138.96 200.402H139.68V229.608H138.96ZM139.68 200.482H140.4V229.608H139.68ZM140.4 194.751H141.12V229.608H140.4ZM141.12 199.449H141.84V229.608H141.12ZM141.84 196.948H142.56V229.608H141.84ZM142.56 199.894H143.28V229.608H142.56ZM143.28 193.98H144V229.608H143.28ZM144 198.845H144.72V229.608H144ZM144.72 195.429H145.44V229.608H144.72ZM146.16 196.969H146.88V229.608H146.16ZM146.88 197.337H147.6V229.608H146.88ZM147.6 197.517H148.32V229.608H147.6ZM148.32 196.813H149.04V229.608H148.32ZM149.04 193.908H149.76V229.608H149.04ZM149.76 194.459H150.48V229.608H149.76ZM150.48 199.163H151.2V229.608H150.48ZM151.2 197.473H151.92V229.608H151.2ZM151.92 194.201H152.64V229.608H151.92ZM152.64 195.824H153.36V229.608H152.64ZM153.36 195.38H154.08V229.608H153.36ZM154.8 194.901H155.52V229.608H154.8ZM156.24 200.063H156.96V229.608H156.24ZM156.96 200.059H157.68V229.608H156.96ZM157.68 195.97H158.4V229.608H157.68ZM158.4 195.566H159.12V229.608H158.4ZM159.84 196.292H160.56V229.608H159.84ZM160.56 197.463H161.28V229.608H160.56ZM161.28 200.266H162V229.608H161.28ZM162 197.2H162.72V229.608H162ZM162.72 195.337H163.44V229.608H162.72ZM163.44 196.37H164.16V229.608H163.44ZM164.16 199.367H164.88V229.608H164.16ZM164.88 195.382H165.6V229.608H164.88ZM165.6 195.566H166.32V229.608H165.6ZM166.32 200.199H167.04V229.608H166.32ZM167.04 199.307H167.76V229.608H167.04ZM168.48 199.585H169.2V229.608H168.48ZM169.2 194.738H169.92V229.608H169.2ZM170.64 200.579H171.36V229.608H170.64ZM171.36 197.638H172.08V229.608H171.36ZM172.08 194.872H172.8V229.608H172.08ZM172.8 194.444H173.52V229.608H172.8ZM173.52 195.838H174.24V229.608H173.52ZM174.24 200.547H174.96V229.608H174.24ZM175.68 200.887H176.4V229.608H175.68ZM176.4 200.22H177.12V229.608H176.4ZM177.12 200.692H177.84V229.608H177.12ZM177.84 196.223H178.56V229.608H177.84ZM178.56 200.171H179.28V229.608H178.56ZM179.28 199.805H180V229.608H179.28ZM180 199.748H180.72V229.608H180ZM180.72 200.093H181.44V229.608H180.72ZM181.44 197.563H182.16V229.608H181.44ZM182.16 197.115H182.88V229.608H182.16ZM182.88 194.288H183.6V229.608H182.88ZM183.6 195.587H184.32V229.608H183.6ZM184.32 196.822H185.04V229.608H184.32ZM185.04 199.822H185.76V229.608H185.04ZM186.48 194.103H187.2V229.608H186.48ZM187.2 199.597H187.92V229.608H187.2ZM187.92 195.394H188.64V229.608H187.92ZM188.64 194.159H189.36V229.608H188.64ZM189.36 200.772H190.08V229.608H189.36ZM190.08 199.657H190.8V229.608H190.08ZM190.8 197.122H191.52V229.608H190.8ZM191.52 195.09H192.24V229.608H191.52ZM192.96 200.429H193.68V229.608H192.96ZM193.68 200.582H194.4V229.608H193.68ZM194.4 194.084H195.12V229.608H194.4ZM195.12 200.662H195.84V229.608H195.12ZM195.84 196.183H196.56V229.608H195.84ZM196.56 199.127H197.28V229.608H196.56ZM197.28 194.826H198V229.608H197.28ZM198 196.228H198.72V229.608H198ZM198.72 195.748H199.44V229.608H198.72ZM199.44 194.904H200.16V229.608H199.44ZM200.16 199.305H200.88V229.608H200.16ZM200.88 199.466H201.6V229.608H200.88ZM201.6 200.238H202.32V229.608H201.6ZM202.32 199.43H203.04V229.608H202.32ZM203.04 195.048H203.76V229.608H203.04ZM203.76 197.186H204.48V229.608H203.76ZM204.48 199.94H205.2V229.608H204.48ZM205.92 194.624H206.64V229.608H205.92ZM207.36 200.433H208.08V229.608H207.36ZM208.08 200.173H208.8V229.608H208.08ZM208.8 197.128H209.52V229.608H208.8ZM209.52 199.756H210.24V229.608H209.52ZM210.24 194.708H210.96V229.608H210.24ZM210.96 197.325H211.68V229.608H210.96ZM211.68 194.993H212.4V229.608H211.68ZM212.4 196.848H213.12V229.608H212.4ZM213.12 194.177H213.84V229.608H213.12ZM213.84 200.34H214.56V229.608H213.84ZM214.56 200.987H215.28V229.608H214.56ZM215.28 201.249H216V229.608H215.28ZM216 197.028H216.72V229.608H216ZM216.72 195.942H217.44V229.608H216.72ZM217.44 194.089H218.16V229.608H217.44ZM218.16 200.955H218.88V229.608H218.16ZM218.88 195.301H219.6V229.608H218.88ZM219.6 197.623H220.32V229.608H219.6ZM220.32 196.445H221.04V229.608H220.32ZM221.04 199.904H221.76V229.608H221.04ZM221.76 199.825H222.48V229.608H221.76ZM222.48 200.693H223.2V229.608H222.48ZM223.2 194.255H223.92V229.608H223.2ZM223.92 196.955H224.64V229.608H223.92ZM224.64 201.46H225.36V229.608H224.64ZM225.36 200.182H226.08V229.608H225.36ZM227.52 194.432H228.24V229.608H227.52ZM228.24 195.457H228.96V229.608H228.24ZM228.96 199.826H229.68V229.608H228.96ZM229.68 199.948H230.4V229.608H229.68ZM230.4 195.54H231.12V229.608H230.4ZM231.12 199.214H231.84V229.608H231.12ZM231.84 194.659H232.56V229.608H231.84ZM232.56 195.771H233.28V229.608H232.56ZM233.28 197.561H234V229.608H233.28ZM234 196.994H234.72V229.608H234ZM234.72 197.273H235.44V229.608H234.72ZM236.16 196.101H236.88V229.608H236.16ZM236.88 196.074H237.6V229.608H236.88ZM237.6 196.147H238.32V229.608H237.6ZM238.32 201.335H239.04V229.608H238.32ZM239.76 194.79H240.48V229.608H239.76ZM240.48 194.141H241.2V229.608H240.48ZM241.2 195.278H241.92V229.608H241.2ZM241.92 196.779H242.64V229.608H241.92ZM242.64 195.965H243.36V229.608H242.64ZM244.08 201.132H244.8V229.608H244.08ZM244.8 199.839H245.52V229.608H244.8ZM245.52 197.382H246.24V229.608H245.52ZM246.24 199.057H246.96V229.608H246.24ZM246.96 195.978H247.68V229.608H246.96ZM247.68 200.061H248.4V229.608H247.68ZM249.12 193.921H249.84V229.608H249.12ZM249.84 199.627H250.56V229.608H249.84ZM250.56 200.038H251.28V229.608H250.56ZM251.28 200.037H252V229.608H251.28ZM252 195.399H252.72V229.608H252ZM252.72 199.305H253.44V229.608H252.72ZM253.44 194.06H254.16V229.608H253.44ZM254.16 201.619H254.88V229.608H254.16ZM254.88 201.117H255.6V229.608H254.88ZM255.6 194.266H256.32V229.608H255.6ZM256.32 199.488H257.04V229.608H256.32ZM257.04 198.942H257.76V229.608H257.04ZM257.76 199.158H258.48V229.608H257.76ZM258.48 196.658H259.2V229.608H258.48ZM259.2 197.608H259.92V229.608H259.2ZM260.64 198.299H261.36V229.608H260.64ZM261.36 198.817H262.08V229.608H261.36ZM262.08 194.648H262.8V229.608H262.08ZM262.8 200.334H263.52V229.608H262.8ZM264.24 197.248H264.96V229.608H264.24ZM264.96 201.471H265.68V229.608H264.96ZM265.68 194.146H266.4V229.608H265.68ZM267.12 195.76H267.84V229.608H267.12ZM267.84 199.847H268.56V229.608H267.84ZM268.56 194.07H269.28V229.608H268.56ZM269.28 197.135H270V229.608H269.28ZM270 197.239H270.72V229.608H270ZM271.44 195.682H272.16V229.608H271.44ZM272.16 199.979H272.88V229.608H272.16ZM272.88 200.524H273.6V229.608H272.88ZM274.32 197.217H275.04V229.608H274.32ZM275.04 194.584H275.76V229.608H275.04ZM275.76 198.41H276.48V229.608H275.76ZM276.48 199.599H277.2V229.608H276.48ZM277.2 195.097H277.92V229.608H277.2ZM277.92 199.411H278.64V229.608H277.92ZM278.64 198.787H279.36V229.608H278.64ZM279.36 194.045H280.08V229.608H279.36ZM280.08 194.847H280.8V229.608H280.08ZM280.8 195.119H281.52V229.608H280.8ZM282.24 195.278H282.96V229.608H282.24ZM282.96 194.313H283.68V229.608H282.96ZM283.68 196.031H284.4V229.608H283.68ZM284.4 196.607H285.12V229.608H284.4ZM285.12 196.535H285.84V229.608H285.12ZM285.84 195.729H286.56V229.608H285.84ZM286.56 195.045H287.28V229.608H286.56ZM287.28 201.035H288V229.608H287.28ZM288 195.891H288.72V229.608H288ZM289.44 195.548H290.16V229.608H289.44ZM290.16 197.487H290.88V229.608H290.16ZM290.88 194.653H291.6V229.608H290.88ZM292.32 199.088H293.04V229.608H292.32ZM293.04 197.263H293.76V229.608H293.04ZM293.76 197.358H294.48V229.608H293.76ZM294.48 199.76H295.2V229.608H294.48ZM295.2 200.207H295.92V229.608H295.2ZM295.92 195.406H296.64V229.608H295.92ZM296.64 200.992H297.36V229.608H296.64ZM297.36 197.464H298.08V229.608H297.36ZM298.08 200.754H298.8V229.608H298.08ZM298.8 196.078H299.52V229.608H298.8ZM299.52 194.161H300.24V229.608H299.52ZM300.24 200.838H300.96V229.608H300.24ZM300.96 194.799H301.68V229.608H300.96ZM301.68 199.694H302.4V229.608H301.68ZM302.4 195.311H303.12V229.608H302.4ZM303.12 199.021H303.84V229.608H303.12ZM303.84 198.23H304.56V229.608H303.84ZM305.28 198.751H306V229.608H305.28ZM306 195.035H306.72V229.608H306ZM306.72 199.212H307.44V229.608H306.72ZM307.44 194.346H308.16V229.608H307.44ZM308.16 197.464H308.88V229.608H308.16ZM308.88 199.504H309.6V229.608H308.88ZM309.6 200.337H310.32V229.608H309.6ZM310.32 195.823H311.04V229.608H310.32ZM311.04 198.84H311.76V229.608H311.04ZM311.76 195.658H312.48V229.608H311.76ZM312.48 199.634H313.2V229.608H312.48ZM313.2 199.348H313.92V229.608H313.2ZM313.92 194.93H314.64V229.608H313.92ZM314.64 194.519H315.36V229.608H314.64ZM315.36 201.29H316.08V229.608H315.36ZM316.08 194.227H316.8V229.608H316.08ZM316.8 199.217H317.52V229.608H316.8ZM317.52 198.585H318.24V229.608H317.52ZM318.24 196.833H318.96V229.608H318.24ZM318.96 194.304H319.68V229.608H318.96ZM319.68 195.382H320.4V229.608H319.68ZM320.4 196.818H321.12V229.608H320.4ZM321.12 199.727H321.84V229.608H321.12ZM321.84 197.027H322.56V229.608H321.84ZM322.56 196.586H323.28V229.608H322.56ZM323.28 194.052H324V229.608H323.28ZM324 195.338H324.72V229.608H324ZM324.72 196.765H325.44V229.608H324.72ZM325.44 200.385H326.16V229.608H325.44ZM326.16 199.607H326.88V229.608H326.16ZM326.88 199.797H327.6V229.608H326.88ZM327.6 198.543H328.32V229.608H327.6ZM328.32 195.94H329.04V229.608H328.32ZM329.04 197.064H329.76V229.608H329.04ZM329.76 198.812H330.48V229.608H329.76ZM330.48 193.935H331.2V229.608H330.48ZM331.2 194.916H331.92V229.608H331.2ZM331.92 196.123H332.64V229.608H331.92ZM333.36 196.169H334.08V229.608H333.36ZM334.08 194.958H334.8V229.608H334.08ZM334.8 197.615H335.52V229.608H334.8ZM335.52 198.98H336.24V229.608H335.52ZM336.24 194.749H336.96V229.608H336.24ZM336.96 195.966H337.68V229.608H336.96ZM337.68 195.184H338.4V229.608H337.68ZM338.4 194.314H339.12V229.608H338.4ZM339.84 199.8H340.56V229.608H339.84ZM340.56 200.245H341.28V229.608H340.56ZM341.28 199.804H342V229.608H341.28ZM342 197.305H342.72V229.608H342ZM342.72 196.881H343.44V229.608H342.72ZM343.44 194.844H344.16V229.608H343.44ZM344.16 195.69H344.88V229.608H344.16ZM344.88 196.255H345.6V229.608H344.88ZM346.32 194.299H347.04V229.608H346.32ZM347.04 201.053H347.76V229.608H347.04ZM347.76 200.745H348.48V229.608H347.76ZM348.48 195.733H349.2V229.608H348.48ZM349.2 200.979H349.92V229.608H349.2ZM349.92 200.245H350.64V229.608H349.92ZM350.64 199.906H351.36V229.608H350.64ZM351.36 195.485H352.08V229.608H351.36ZM352.08 199.98H352.8V229.608H352.08ZM352.8 195.216H353.52V229.608H352.8ZM354.24 194.772H354.96V229.608H354.24ZM354.96 200.045H355.68V229.608H354.96ZM355.68 196.709H356.4V229.608H355.68ZM356.4 196.997H357.12V229.608H356.4ZM357.12 195.711H357.84V229.608H357.12ZM357.84 194.728H358.56V229.608H357.84ZM358.56 196.262H359.28V229.608H358.56ZM359.28 197.304H360V229.608H359.28ZM360 199.884H360.72V229.608H360ZM360.72 193.971H361.44V229.608H360.72ZM361.44 194.589H362.16V229.608H361.44ZM362.16 200.834H362.88V229.608H362.16ZM362.88 193.919H363.6V229.608H362.88ZM363.6 199.302H364.32V229.608H363.6ZM364.32 198.438H365.04V229.608H364.32ZM365.04 199.024H365.76V229.608H365.04ZM366.48 196.485H367.2V229.608H366.48ZM367.2 200.902H367.92V229.608H367.2ZM367.92 195.521H368.64V229.608H367.92ZM368.64 200.11H369.36V229.608H368.64ZM369.36 195.623H370.08V229.608H369.36ZM370.08 195.925H370.8V229.608H370.08ZM370.8 199.904H371.52V229.608H370.8ZM371.52 193.903H372.24V229.608H371.52ZM372.96 199.544H373.68V229.608H372.96ZM373.68 194.926H374.4V229.608H373.68ZM374.4 197.834H375.12V229.608H374.4ZM375.12 195.251H375.84V229.608H375.12ZM376.56 196.256H377.28V229.608H376.56ZM378 194.112H378.72V229.608H378ZM378.72 199.459H379.44V229.608H378.72ZM379.44 196.184H380.16V229.608H379.44ZM380.16 194.943H380.88V229.608H380.16ZM380.88 197.588H381.6V229.608H380.88ZM381.6 196.887H382.32V229.608H381.6ZM382.32 199.826H383.04V229.608H382.32ZM383.04 197.324H383.76V229.608H383.04ZM383.76 194.026H384.48V229.608H383.76ZM384.48 194.737H385.2V229.608H384.48ZM385.2 197.321H385.92V229.608H385.2ZM385.92 195.801H386.64V229.608H385.92ZM387.36 196.03H388.08V229.608H387.36ZM388.08 199.951H388.8V229.608H388.08ZM388.8 196.155H389.52V229.608H388.8ZM389.52 194.068H390.24V229.608H389.52ZM390.24 194.034H390.96V229.608H390.24ZM390.96 195.42H391.68V229.608H390.96ZM391.68 193.957H392.4V229.608H391.68ZM392.4 194.211H393.12V229.608H392.4ZM393.12 196.302H393.84V229.608H393.12ZM393.84 195.538H394.56V229.608H393.84ZM395.28 197.177H396V229.608H395.28ZM396 195.276H396.72V229.608H396ZM396.72 201.094H397.44V229.608H396.72ZM397.44 196.177H398.16V229.608H397.44ZM398.16 201.289H398.88V229.608H398.16ZM398.88 195.484H399.6V229.608H398.88ZM400.32 194.808H401.04V229.608H400.32ZM401.04 194.86H401.76V229.608H401.04ZM402.48 200.524H403.2V229.608H402.48ZM403.92 196.684H404.64V229.608H403.92ZM404.64 195.132H405.36V229.608H404.64ZM405.36 199.777H406.08V229.608H405.36ZM406.08 197.3H406.8V229.608H406.08ZM406.8 194.669H407.52V229.608H406.8ZM408.24 200.797H408.96V229.608H408.24ZM409.68 195.134H410.4V229.608H409.68ZM410.4 197.198H411.12V229.608H410.4ZM411.84 197.629H412.56V229.608H411.84ZM412.56 199.785H413.28V229.608H412.56ZM413.28 197.066H414V229.608H413.28ZM414 194.741H414.72V229.608H414Z" style="fill:#660000" /></g>
<g id="patch_13">
<path d="M57.56 179.96H58.36V239.08H57.56Z" style="fill:#000"/>
</g>
<g id="patch_14">
<path d="M414.68 179.96H415.48V239.08H414.68Z" style="fill:#000"/>
</g>
<g id="patch_15">
<path d="M57.56 238.28H415.48V239.08H57.56Z" style="fill:#000"/>
</g>
<g id="patch_16">
<path d="M57.56 179.96H415.48V180.76H57.56Z" style="fill:#000"/>
</g>
</g>
<g id="axes_4">
<g id="patch_17">
<path d="M57.6 249.84H414.72V307.44H57.6Z" style="fill:#fff"/>
</g>
<g id="matplotlib.axis_7">
<g id="xtick_28">
<g id="line2d_34">
<g>
<path d="M87.8 307.8H88.6V311.4H87.8Z" style="fill:#000"/>
</g>
</g>
<g id="T42" transform="translate(-0.262 0.274)">
<g transform="translate(65.706198 322.182437) scale(0.1 -0.1)">
<use href="#gl31"/>
<use href="#gl30" transform="translate(63.623047 0)"/>
<use href="#gl2d" transform="translate(127.246094 0)"/>
<use href="#gl31" transform="translate(163.330078 0)"/>
<use href="#gl34" transform="translate(226.953125 0)"/>
<use href="#gl20" transform="translate(290.576172 0)"/>
<use href="#gl31" transform="translate(322.363281 0)"/>
<use href="#gl35" transform="translate(385.986328 0)"/>
</g>
</g>
</g>
<g id="xtick_29">
<g id="line2d_35">
<g>
<path d="M128.12 307.8H128.92V311.4H128.12Z" style="fill:#000"/>
</g>
</g>
<g id="T43" transform="translate(-0.347 0.302)">
<g transform="translate(105.386198 322.182437) scale(0.1 -0.1)">
<use href="#gl31"/>
<use href="#gl30" transform="translate(63.623047 0)"/>
<use href="#gl2d" transform="translate(127.246094 0)"/>
<use href="#gl31" transform="translate(163.330078 0)"/>
<use href="#gl34" transform="translate(226.953125 0)"/>
<use href="#gl20" transform="translate(290.576172 0)"/>
<use href="#gl31" transform="translate(322.363281 0)"/>
<use href="#gl39" transform="translate(385.986328 0)"/>
</g>
</g>
</g>
<g id="xtick_30">
<g id="line2d_36">
<g>
<path d="M167.72 307.8H168.52V311.4H167.72Z" style="fill:#000"/>
</g>
</g>
<g id="T44" transform="translate(0.256 0.358)">
<g transform="translate(145.066198 322.182437) scale(0.1 -0.1)">
<use href="#gl31"/>
<use href="#gl30" transform="translate(63.623047 0)"/>
<use href="#gl2d" transform="translate(127.246094 0)"/>
<use href="#gl31" transform="translate(163.330078 0)"/>
<use href="#gl34" transform="translate(226.953125 0)"/>
<use href="#gl20" transform="translate(290.576172 0)"/>
<use href="#gl32" transform="translate(322.363281 0)"/>
<use href="#gl33" transform="translate(385.986328 0)"/>
</g>
</g>
</g>
<g id="xtick_31">
<g id="line2d_37">
<g>
<path d="M207.32 307.8H208.12V311.4H207.32Z" style="fill:#000"/>
</g>
</g>
<g id="T45" transform="translate(0.178 0.381)">
<g transform="translate(184.746198 322.182437) scale(0.1 -0.1)">
<use href="#gl31"/>
<use href="#gl30" transform="translate(63.623047 0)"/>
<use href="#gl2d" transform="translate(127.246094 0)"/>
<use href="#gl31" transform="translate(163.330078 0)"/>
<use href="#gl35" transform="translate(226.953125 0)"/>
<use href="#gl20" transform="translate(290.576172 0)"/>
<use href="#gl30" transform="translate(322.363281 0)"/>
<use href="#gl33" transform="translate(385.986328 0)"/>
</g>
</g>
</g>
<g id="xtick_32">
<g id="line2d_38">
<g>
<path d="M246.92 307.8H247.72V311.4H246.92Z" style="fill:#000"/>
</g>
</g>
<g id="T46" transform="translate(0.081 0.337)">
<g transform="translate(224.426198 322.182437) scale(0.1 -0.1)">
<use href="#gl31"/>
<use href="#gl30" transform="translate(63.623047 0)"/>
<use href="#gl2d" transform="translate(127.246094 0)"/>
<use href="#gl31" transform="translate(163.330078 0)"/>
<use href="#gl35" transform="translate(226.953125 0)"/>
<use href="#gl20" transform="translate(290.576172 0)"/>
<use href="#gl30" transform="translate(322.363281 0)"/>
<use href="#gl37" transform="translate(385.986328 0)"/>
</g>
</g>
</g>
<g id="xtick_33">
<g id="line2d_39">
<g>
<path d="M286.52 307.8H287.32V311.4H286.52Z" style="fill:#000"/>
</g>
</g>
<g id="T47" transform="translate(0.039 0.39)">
<g transform="translate(264.106198 322.182437) scale(0.1 -0.1)">
<use href="#gl31"/>
<use href="#gl30" transform="translate(63.623047 0)"/>
<use href="#gl2d" transform="translate(127.246094 0)"/>
<use href="#gl31" transform="translate(163.330078 0)"/>
<use href="#gl35" transform="translate(226.953125 0)"/>
<use href="#gl20" transform="translate(290.576172 0)"/>
<use href="#gl31" transform="translate(322.363281 0)"/>
<use href="#gl31" transform="translate(385.986328 0)"/>
</g>
</g>
</g>
<g id="xtick_34">
<g id="line2d_40">
<g>
<path d="M326.12 307.8H326.92V311.4H326.12Z" style="fill:#000"/>
</g>
</g>
<g id="T48" transform="translate(-0.04 0.294)">
<g transform="translate(303.786198 322.182437) scale(0.1 -0.1)">
<use href="#gl31"/>
<use href="#gl30" transform="translate(63.623047 0)"/>
<use href="#gl2d" transform="translate(127.246094 0)"/>
<use href="#gl31" transform="translate(163.330078 0)"/>
<use href="#gl35" transform="translate(226.953125 0)"/>
<use href="#gl20" transform="translate(290.576172 0)"/>
<use href="#gl31" transform="translate(322.363281 0)"/>
<use href="#gl35" transform="translate(385.986328 0)"/>
</g>
</g>
</g>
<g id="xtick_35">
<g id="line2d_41">
<g>
<path d="M365.72 307.8H366.52V311.4H365.72Z" style="fill:#000"/>
</g>
</g>
<g id="T49" transform="translate(-0.106 0.343)">
<g transform="translate(343.466198 322.182437) scale(0.1 -0.1)">
<use href="#gl31"/>
<use href="#gl30" transform="translate(63.623047 0)"/>
<use href="#gl2d" transform="translate(127.246094 0)"/>
<use href="#gl31" transform="translate(163.330078 0)"/>
<use href="#gl35" transform="translate(226.953125 0)"/>
<use href="#gl20" transform="translate(290.576172 0)"/>
<use href="#gl31" transform="translate(322.363281 0)"/>
<use href="#gl39" transform="translate(385.986328 0)"/>
</g>
</g>
</g>
<g id="xtick_36">
<g id="line2d_42">
<g>
<path d="M405.32 307.8H406.12V311.4H405.32Z" style="fill:#000"/>
</g>
</g>
<g id="T50" transform="translate(-0.191 0.334)">
<g transform="translate(383.146198 322.182437) scale(0.1 -0.1)">
<use href="#gl31"/>
<use href="#gl30" transform="translate(63.623047 0)"/>
<use href="#gl2d" transform="translate(127.246094 0)"/>
<use href="#gl31" transform="translate(163.330078 0)"/>
<use href="#gl35" transform="translate(226.953125 0)"/>
<use href="#gl20" transform="translate(290.576172 0)"/>
<use href="#gl32" transform="translate(322.363281 0)"/>
<use href="#gl33" transform="translate(385.986328 0)"/>
</g>
</g>
</g>
<g id="T55" transform="translate(0.176 0.98)">
<g transform="translate(205.887344 335.860562) scale(0.1 -0.1)">
<use href="#gl44"/>
<use href="#gl61" transform="translate(77.001953 0)"/>
<use href="#gl74" transform="translate(138.28125 0)"/>
<use href="#gl65" transform="translate(177.490234 0)"/>
<use href="#gl20" transform="translate(239.013672 0)"/>
<use href="#gl28" transform="translate(270.800781 0)"/>
<use href="#gl47" transform="translate(309.814453 0)"/>
<use href="#gl4d" transform="translate(387.304688 0)"/>
<use href="#gl54" transform="translate(473.583984 0)"/>
<use href="#gl29" transform="translate(534.667969 0)"/>
<use href="#gl20" transform="translate(573.681641 0)"/>
</g>
</g>
</g>
<g id="matplotlib.axis_8">
<g id="ytick_7">
<g id="line2d_43">
<g>
<path d="M54.36 287.96H57.96V288.76H54.36Z" style="fill:#000"/>
</g>
</g>
<g id="T52" transform="translate(0.358 0.219)">
<g transform="translate(44.2375 292.09974) scale(0.1 -0.1)">
<use href="#gl30"/>
</g>
</g>
</g>
<g id="ytick_8">
<g id="line2d_44">
<g>
<path d="M54.36 249.8H57.96V250.6H54.36Z" style="fill:#000"/>
</g>
</g>
<g id="T53" transform="translate(0.4 -0.019)">
<g transform="translate(44.2375 253.532784) scale(0.1 -0.1)">
<use href="#gl32"/>
</g>
</g>
</g>
<g id="T54" transform="translate(-0.826 0.795)">
<g transform="translate(38.157812 314.565033) rotate(-90) scale(0.1 -0.1)">
<use href="#gl48"/>
<use href="#gl69" transform="translate(75.195312 0)"/>
<use href="#gl67" transform="translate(102.978516 0)"/>
<use href="#gl68" transform="translate(166.455078 0)"/>
<use href="#gl20" transform="translate(229.833984 0)"/>
<use href="#gl66" transform="translate(261.621094 0)"/>
<use href="#gl6c" transform="translate(296.826172 0)"/>
<use href="#gl6f" transform="translate(324.609375 0)"/>
<use href="#gl77" transform="translate(385.791016 0)"/>
<use href="#gl20" transform="translate(467.578125 0)"/>
<use href="#gl42" transform="translate(499.365234 0)"/>
<use href="#gl6f" transform="translate(567.96875 0)"/>
<use href="#gl6f" transform="translate(629.150391 0)"/>
<use href="#gl6c" transform="translate(690.332031 0)"/>
</g>
</g>
</g>
<g id="data4"><path d="M57.6 288H414.72V288.504H57.6Z" style="fill:#660000;fill-opacity:0.9" /><path d="M123.12 268.776H123.84V288.432H123.12ZM155.52 268.776H156.24V288.432H155.52ZM192.24 268.776H192.96V288.432H192.24ZM239.04 268.776H239.76V288.432H239.04ZM270.72 268.776H271.44V288.432H270.72ZM273.6 268.776H274.32V288.432H273.6ZM288.72 268.776H289.44V288.432H288.72ZM304.56 268.776H305.28V288.432H304.56ZM386.64 268.776H387.36V288.432H386.64ZM399.6 268.776H400.32V288.432H399.6ZM407.52 268.776H408.24V288.432H407.52Z" style="fill:#660000;fill-opacity:0.5" /><path d="M71.28 268.776H72V288.432H71.28ZM79.2 268.776H79.92V288.432H79.2ZM82.08 268.776H82.8V288.432H82.08ZM92.16 268.776H92.88V288.432H92.16ZM154.08 268.776H154.8V288.432H154.08ZM159.12 268.776H159.84V288.432H159.12ZM169.92 268.776H170.64V288.432H169.92ZM185.76 268.776H186.48V288.432H185.76ZM205.2 268.776H205.92V288.432H205.2ZM206.64 268.776H207.36V288.432H206.64ZM235.44 268.776H236.16V288.432H235.44ZM259.92 268.776H260.64V288.432H259.92ZM263.52 268.776H264.24V288.432H263.52ZM266.4 268.776H267.12V288.432H266.4ZM281.52 268.776H282.24V288.432H281.52ZM339.12 268.776H339.84V288.432H339.12ZM353.52 268.776H354.24V288.432H353.52ZM375.84 268.776H376.56V288.432H375.84ZM377.28 268.776H378V288.432H377.28ZM394.56 268.776H395.28V288.432H394.56ZM403.2 268.776H403.92V288.432H403.2ZM408.96 268.776H409.68V288.432H408.96ZM411.12 268.776H411.84V288.432H411.12Z" style="fill:#660000;fill-opacity:0.78" /><path d="M57.6 268.776H58.32V288.432H57.6ZM58.32 268.776H59.04V288.432H58.32ZM59.04 268.776H59.76V288.432H59.04ZM59.76 268.776H60.48V288.432H59.76ZM60.48 268.776H61.2V288.432H60.48ZM61.2 268.776H61.92V288.432H61.2ZM61.92 268.776H62.64V288.432H61.92ZM62.64 268.776H63.36V288.432H62.64ZM63.36 268.776H64.08V288.432H63.36ZM64.08 268.776H64.8V288.432H64.08ZM64.8 268.776H65.52V288.432H64.8ZM65.52 268.776H66.24V288.432H65.52ZM66.24 268.776H66.96V288.432H66.24ZM66.96 268.776H67.68V288.432H66.96ZM67.68 268.776H68.4V288.432H67.68ZM68.4 268.776H69.12V288.432H68.4ZM69.12 268.776H69.84V288.432H69.12ZM69.84 268.776H70.56V288.432H69.84ZM70.56 268.776H71.28V288.432H70.56ZM72 268.776H72.72V288.432H72ZM72.72 268.776H73.44V288.432H72.72ZM73.44 268.776H74.16V288.432H73.44ZM74.16 268.776H74.88V288.432H74.16ZM74.88 268.776H75.6V288.432H74.88ZM75.6 268.776H76.32V288.432H75.6ZM76.32 268.776H77.04V288.432H76.32ZM77.04 268.776H77.76V288.432H77.04ZM77.76 268.776H78.48V288.432H77.76ZM78.48 268.776H79.2V288.432H78.48ZM79.92 268.776H80.64V288.432H79.92ZM80.64 268.776H81.36V288.432H80.64ZM81.36 268.776H82.08V288.432H81.36ZM82.8 268.776H83.52V288.432H82.8ZM83.52 268.776H84.24V288.432H83.52ZM84.24 268.776H84.96V288.432H84.24ZM84.96 268.776H85.68V288.432H84.96ZM85.68 268.776H86.4V288.432H85.68ZM86.4 268.776H87.12V288.432H86.4ZM87.12 268.776H87.84V288.432H87.12ZM87.84 268.776H88.56V288.432H87.84ZM88.56 268.776H89.28V288.432H88.56ZM89.28 268.776H90V288.432H89.28ZM90 268.776H90.72V288.432H90ZM90.72 268.776H91.44V288.432H90.72ZM91.44 268.776H92.16V288.432H91.44ZM92.88 268.776H93.6V288.432H92.88ZM93.6 268.776H94.32V288.432H93.6ZM94.32 268.776H95.04V288.432H94.32ZM95.04 268.776H95.76V288.432H95.04ZM95.76 268.776H96.48V288.432H95.76ZM96.48 268.776H97.2V288.432H96.48ZM97.2 268.776H97.92V288.432H97.2ZM97.92 268.776H98.64V288.432H97.92ZM98.64 268.776H99.36V288.432H98.64ZM99.36 268.776H100.08V288.432H99.36ZM100.08 268.776H100.8V288.432H100.08ZM100.8 268.776H101.52V288.432H100.8ZM101.52 268.776H102.24V288.432H101.52ZM102.24 268.776H102.96V288.432H102.24ZM102.96 268.776H103.68V288.432H102.96ZM103.68 268.776H104.4V288.432H103.68ZM104.4 268.776H105.12V288.432H104.4ZM105.12 268.776H105.84V288.432H105.12ZM105.84 268.776H106.56V288.432H105.84ZM106.56 268.776H107.28V288.432H106.56ZM107.28 268.776H108V288.432H107.28ZM108 268.776H108.72V288.432H108ZM108.72 268.776H109.44V288.432H108.72ZM109.44 268.776H110.16V288.432H109.44ZM110.88 268.776H111.6V288.432H110.88ZM111.6 268.776H112.32V288.432H111.6ZM112.32 268.776H113.04V288.432H112.32ZM113.04 268.776H113.76V288.432H113.04ZM113.76 268.776H114.48V288.432H113.76ZM114.48 268.776H115.2V288.432H114.48ZM115.2 268.776H115.92V288.432H115.2ZM115.92 268.776H116.64V288.432H115.92ZM116.64 268.776H117.36V288.432H116.64ZM117.36 268.776H118.08V288.432H117.36ZM118.08 268.776H118.8V288.432H118.08ZM118.8 268.776H119.52V288.432H118.8ZM119.52 268.776H120.24V288.432H119.52ZM120.24 268.776H120.96V288.432H120.24ZM120.96 268.776H121.68V288.432H120.96ZM121.68 268.776H122.4V288.432H121.68ZM122.4 268.776H123.12V288.432H122.4ZM123.84 268.776H124.56V288.432H123.84ZM124.56 268.776H125.28V288.432H124.56ZM125.28 268.776H126V288.432H125.28ZM126 268.776H126.72V288.432H126ZM126.72 268.776H127.44V288.432H126.72ZM127.44 268.776H128.16V288.432H127.44ZM130.32 268.776H131.04V288.432H130.32ZM131.04 268.776H131.76V288.432H131.04ZM131.76 268.776H132.48V288.432H131.76ZM132.48 268.776H133.2V288.432H132.48ZM133.2 268.776H133.92V288.432H133.2ZM133.92 268.776H134.64V288.432H133.92ZM134.64 268.776H135.36V288.432H134.64ZM135.36 268.776H136.08V288.432H135.36ZM136.08 268.776H136.8V288.432H136.08ZM136.8 268.776H137.52V288.432H136.8ZM137.52 268.776H138.24V288.432H137.52ZM138.24 268.776H138.96V288.432H138.24ZM138.96 268.776H139.68V288.432H138.96ZM139.68 268.776H140.4V288.432H139.68ZM140.4 268.776H141.12V288.432H140.4ZM141.12 268.776H141.84V288.432H141.12ZM141.84 268.776H142.56V288.432H141.84ZM142.56 268.776H143.28V288.432H142.56ZM143.28 268.776H144V288.432H143.28ZM144 268.776H144.72V288.432H144ZM144.72 268.776H145.44V288.432H144.72ZM146.16 268.776H146.88V288.432H146.16ZM146.88 268.776H147.6V288.432H146.88ZM147.6 268.776H148.32V288.432H147.6ZM148.32 268.776H149.04V288.432H148.32ZM149.04 268.776H149.76V288.432H149.04ZM149.76 268.776H150.48V288.432H149.76ZM150.48 268.776H151.2V288.432H150.48ZM151.2 268.776H151.92V288.432H151.2ZM151.92 268.776H152.64V288.432H151.92ZM152.64 268.776H153.36V288.432H152.64ZM153.36 268.776H154.08V288.432H153.36ZM154.8 268.776H155.52V288.432H154.8ZM156.24 268.776H156.96V288.432H156.24ZM156.96 268.776H157.68V288.432H156.96ZM157.68 268.776H158.4V288.432H157.68ZM158.4 268.776H159.12V288.432H158.4ZM159.84 268.776H160.56V288.432H159.84ZM160.56 268.776H161.28V288.432H160.56ZM161.28 268.776H162V288.432H161.28ZM162 268.776H162.72V288.432H162ZM162.72 268.776H163.44V288.432H162.72ZM163.44 268.776H164.16V288.432H163.44ZM164.16 268.776H164.88V288.432H164.16ZM164.88 268.776H165.6V288.432H164.88ZM165.6 268.776H166.32V288.432H165.6ZM166.32 268.776H167.04V288.432H166.32ZM167.04 268.776H167.76V288.432H167.04ZM168.48 268.776H169.2V288.432H168.48ZM169.2 268.776H169.92V288.432H169.2ZM170.64 268.776H171.36V288.432H170.64ZM171.36 268.776H172.08V288.432H171.36ZM172.08 268.776H172.8V288.432H172.08ZM172.8 268.776H173.52V288.432H172.8ZM173.52 268.776H174.24V288.432H173.52ZM174.24 268.776H174.96V288.432H174.24ZM175.68 268.776H176.4V288.432H175.68ZM176.4 268.776H177.12V288.432H176.4ZM177.12 268.776H177.84V288.432H177.12ZM177.84 268.776H178.56V288.432H177.84ZM178.56 268.776H179.28V288.432H178.56ZM179.28 268.776H180V288.432H179.28ZM180 268.776H180.72V288.432H180ZM180.72 268.776H181.44V288.432H180.72ZM181.44 268.776H182.16V288.432H181.44ZM182.16 268.776H182.88V288.432H182.16ZM182.88 268.776H183.6V288.432H182.88ZM183.6 268.776H184.32V288.432H183.6ZM184.32 268.776H185.04V288.432H184.32ZM185.04 268.776H185.76V288.432H185.04ZM186.48 268.776H187.2V288.432H186.48ZM187.2 268.776H187.92V288.432H187.2ZM187.92 268.776H188.64V288.432H187.92ZM188.64 268.776H189.36V288.432H188.64ZM189.36 268.776H190.08V288.432H189.36ZM190.08 268.776H190.8V288.432H190.08ZM190.8 268.776H191.52V288.432H190.8ZM191.52 268.776H192.24V288.432H191.52ZM192.96 268.776H193.68V288.432H192.96ZM193.68 268.776H194.4V288.432H193.68ZM194.4 268.776H195.12V288.432H194.4ZM195.12 268.776H195.84V288.432H195.12ZM195.84 268.776H196.56V288.432H195.84ZM196.56 268.776H197.28V288.432H196.56ZM197.28 268.776H198V288.432H197.28ZM198 268.776H198.72V288.432H198ZM198.72 268.776H199.44V288.432H198.72ZM199.44 268.776H200.16V288.432H199.44ZM200.16 268.776H200.88V288.432H200.16ZM200.88 268.776H201.6V288.432H200.88ZM201.6 268.776H202.32V288.432H201.6ZM202.32 268.776H203.04V288.432H202.32ZM203.04 268.776H203.76V288.432H203.04ZM203.76 268.776H204.48V288.432H203.76ZM204.48 268.776H205.2V288.432H204.48ZM205.92 268.776H206.64V288.432H205.92ZM207.36 268.776H208.08V288.432H207.36ZM208.08 268.776H208.8V288.432H208.08ZM208.8 268.776H209.52V288.432H208.8ZM209.52 268.776H210.24V288.432H209.52ZM210.24 268.776H210.96V288.432H210.24ZM210.96 268.776H211.68V288.432H210.96ZM211.68 268.776H212.4V288.432H211.68ZM212.4 268.776H213.12V288.432H212.4ZM213.12 268.776H213.84V288.432H213.12ZM213.84 268.776H214.56V288.432H213.84ZM214.56 268.776H215.28V288.432H214.56ZM215.28 268.776H216V288.432H215.28ZM216 268.776H216.72V288.432H216ZM216.72 268.776H217.44V288.432H216.72ZM217.44 268.776H218.16V288.432H217.44ZM218.16 268.776H218.88V288.432H218.16ZM218.88 268.776H219.6V288.432H218.88ZM219.6 268.776H220.32V288.432H219.6ZM220.32 268.776H221.04V288.432H220.32ZM221.04 268.776H221.76V288.432H221.04ZM221.76 268.776H222.48V288.432H221.76ZM222.48 268.776H223.2V288.432H222.48ZM223.2 268.776H223.92V288.432H223.2ZM223.92 268.776H224.64V288.432H223.92ZM224.64 268.776H225.36V288.432H224.64ZM225.36 268.776H226.08V288.432H225.36ZM227.52 268.776H228.24V288.432H227.52ZM228.24 268.776H228.96V288.432H228.24ZM228.96 268.776H229.68V288.432H228.96ZM229.68 268.776H230.4V288.432H229.68ZM230.4 268.776H231.12V288.432H230.4ZM231.12 268.776H231.84V288.432H231.12ZM231.84 268.776H232.56V288.432H231.84ZM232.56 268.776H233.28V288.432H232.56ZM233.28 268.776H234V288.432H233.28ZM234 268.776H234.72V288.432H234ZM234.72 268.776H235.44V288.432H234.72ZM236.16 268.776H236.88V288.432H236.16ZM236.88 268.776H237.6V288.432H236.88ZM237.6 268.776H238.32V288.432H237.6ZM238.32 268.776H239.04V288.432H238.32ZM239.76 268.776H240.48V288.432H239.76ZM240.48 268.776H241.2V288.432H240.48ZM241.2 268.776H241.92V288.432H241.2ZM241.92 268.776H242.64V288.432H241.92ZM242.64 268.776H243.36V288.432H242.64ZM244.08 268.776H244.8V288.432H244.08ZM244.8 268.776H245.52V288.432H244.8ZM245.52 268.776H246.24V288.432H245.52ZM246.24 268.776H246.96V288.432H246.24ZM246.96 268.776H247.68V288.432H246.96ZM247.68 268.776H248.4V288.432H247.68ZM249.12 268.776H249.84V288.432H249.12ZM249.84 268.776H250.56V288.432H249.84ZM250.56 268.776H251.28V288.432H250.56ZM251.28 268.776H252V288.432H251.28ZM252 268.776H252.72V288.432H252ZM252.72 268.776H253.44V288.432H252.72ZM253.44 268.776H254.16V288.432H253.44ZM254.16 268.776H254.88V288.432H254.16ZM254.88 268.776H255.6V288.432H254.88ZM255.6 268.776H256.32V288.432H255.6ZM256.32 268.776H257.04V288.432H256.32ZM257.04 268.776H257.76V288.432H257.04ZM257.76 268.776H258.48V288.432H257.76ZM258.48 268.776H259.2V288.432H258.48ZM259.2 268.776H259.92V288.432H259.2ZM260.64 268.776H261.36V288.432H260.64ZM261.36 268.776H262.08V288.432H261.36ZM262.08 268.776H262.8V288.432H262.08ZM262.8 268.776H263.52V288.432H262.8ZM264.24 268.776H264.96V288.432H264.24ZM264.96 268.776H265.68V288.432H264.96ZM265.68 268.776H266.4V288.432H265.68ZM267.12 268.776H267.84V288.432H267.12ZM267.84 268.776H268.56V288.432H267.84ZM268.56 268.776H269.28V288.432H268.56ZM269.28 268.776H270V288.432H269.28ZM270 268.776H270.72V288.432H270ZM271.44 268.776H272.16V288.432H271.44ZM272.16 268.776H272.88V288.432H272.16ZM272.88 268.776H273.6V288.432H272.88ZM274.32 268.776H275.04V288.432H274.32ZM275.04 268.776H275.76V288.432H275.04ZM275.76 268.776H276.48V288.432H275.76ZM276.48 268.776H277.2V288.432H276.48ZM277.2 268.776H277.92V288.432H277.2ZM277.92 268.776H278.64V288.432H277.92ZM278.64 268.776H279.36V288.432H278.64ZM279.36 268.776H280.08V288.432H279.36ZM280.08 268.776H280.8V288.432H280.08ZM280.8 268.776H281.52V288.432H280.8ZM282.24 268.776H282.96V288.432H282.24ZM282.96 268.776H283.68V288.432H282.96ZM283.68 268.776H284.4V288.432H283.68ZM284.4 268.776H285.12V288.432H284.4ZM285.12 268.776H285.84V288.432H285.12ZM285.84 268.776H286.56V288.432H285.84ZM286.56 268.776H287.28V288.432H286.56ZM287.28 268.776H288V288.432H287.28ZM288 268.776H288.72V288.432H288ZM289.44 268.776H290.16V288.432H289.44ZM290.16 268.776H290.88V288.432H290.16ZM290.88 268.776H291.6V288.432H290.88ZM292.32 268.776H293.04V288.432H292.32ZM293.04 268.776H293.76V288.432H293.04ZM293.76 268.776H294.48V288.432H293.76ZM294.48 268.776H295.2V288.432H294.48ZM295.2 268.776H295.92V288.432H295.2ZM295.92 268.776H296.64V288.432H295.92ZM296.64 268.776H297.36V288.432H296.64ZM297.36 268.776H298.08V288.432H297.36ZM298.08 268.776H298.8V288.432H298.08ZM298.8 268.776H299.52V288.432H298.8ZM299.52 268.776H300.24V288.432H299.52ZM300.24 268.776H300.96V288.432H300.24ZM300.96 268.776H301.68V288.432H300.96ZM301.68 268.776H302.4V288.432H301.68ZM302.4 268.776H303.12V288.432H302.4ZM303.12 268.776H303.84V288.432H303.12ZM303.84 268.776H304.56V288.432H303.84ZM305.28 268.776H306V288.432H305.28ZM306 268.776H306.72V288.432H306ZM306.72 268.776H307.44V288.432H306.72ZM307.44 268.776H308.16V288.432H307.44ZM308.16 268.776H308.88V288.432H308.16ZM308.88 268.776H309.6V288.432H308.88ZM309.6 268.776H310.32V288.432H309.6ZM310.32 268.776H311.04V288.432H310.32ZM311.04 268.776H311.76V288.432H311.04ZM311.76 268.776H312.48V288.432H311.76ZM312.48 268.776H313.2V288.432H312.48ZM313.2 268.776H313.92V288.432H313.2ZM313.92 268.776H314.64V288.432H313.92ZM314.64 268.776H315.36V288.432H314.64ZM315.36 268.776H316.08V288.432H315.36ZM316.08 268.776H316.8V288.432H316.08ZM316.8 268.776H317.52V288.432H316.8ZM317.52 268.776H318.24V288.432H317.52ZM318.24 268.776H318.96V288.432H318.24ZM318.96 268.776H319.68V288.432H318.96ZM319.68 268.776H320.4V288.432H319.68ZM320.4 268.776H321.12V288.432H320.4ZM321.12 268.776H321.84V288.432H321.12ZM321.84 268.776H322.56V288.432H321.84ZM322.56 268.776H323.28V288.432H322.56ZM323.28 268.776H324V288.432H323.28ZM324 268.776H324.72V288.432H324ZM324.72 268.776H325.44V288.432H324.72ZM325.44 268.776H326.16V288.432H325.44ZM326.16 268.776H326.88V288.432H326.16ZM326.88 268.776H327.6V288.432H326.88ZM327.6 268.776H328.32V288.432H327.6ZM328.32 268.776H329.04V288.432H328.32ZM329.04 268.776H329.76V288.432H329.04ZM329.76 268.776H330.48V288.432H329.76ZM330.48 268.776H331.2V288.432H330.48ZM331.2 268.776H331.92V288.432H331.2ZM331.92 268.776H332.64V288.432H331.92ZM333.36 268.776H334.08V288.432H333.36ZM334.08 268.776H334.8V288.432H334.08ZM334.8 268.776H335.52V288.432H334.8ZM335.52 268.776H336.24V288.432H335.52ZM336.24 268.776H336.96V288.432H336.24ZM336.96 268.776H337.68V288.432H336.96ZM337.68 268.776H338.4V288.432H337.68ZM338.4 268.776H339.12V288.432H338.4ZM339.84 268.776H340.56V288.432H339.84ZM340.56 268.776H341.28V288.432H340.56ZM341.28 268.776H342V288.432H341.28ZM342 268.776H342.72V288.432H342ZM342.72 268.776H343.44V288.432H342.72ZM343.44 268.776H344.16V288.432H343.44ZM344.16 268.776H344.88V288.432H344.16ZM344.88 268.776H345.6V288.432H344.88ZM346.32 268.776H347.04V288.432H346.32ZM347.04 268.776H347.76V288.432H347.04ZM347.76 268.776H348.48V288.432H347.76ZM348.48 268.776H349.2V288.432H348.48ZM349.2 268.776H349.92V288.432H349.2ZM349.92 268.776H350.64V288.432H349.92ZM350.64 268.776H351.36V288.432H350.64ZM351.36 268.776H352.08V288.432H351.36ZM352.08 268.776H352.8V288.432H352.08ZM352.8 268.776H353.52V288.432H352.8ZM354.24 268.776H354.96V288.432H354.24ZM354.96 268.776H355.68V288.432H354.96ZM355.68 268.776H356.4V288.432H355.68ZM356.4 268.776H357.12V288.432H356.4ZM357.12 268.776H357.84V288.432H357.12ZM357.84 268.776H358.56V288.432H357.84ZM358.56 268.776H359.28V288.432H358.56ZM359.28 268.776H360V288.432H359.28ZM360 268.776H360.72V288.432H360ZM360.72 268.776H361.44V288.432H360.72ZM361.44 268.776H362.16V288.432H361.44ZM362.16 268.776H362.88V288.432H362.16ZM362.88 268.776H363.6V288.432H362.88ZM363.6 268.776H364.32V288.432H363.6ZM364.32 268.776H365.04V288.432H364.32ZM365.04 268.776H365.76V288.432H365.04ZM366.48 268.776H367.2V288.432H366.48ZM367.2 268.776H367.92V288.432H367.2ZM367.92 268.776H368.64V288.432H367.92ZM368.64 268.776H369.36V288.432H368.64ZM369.36 268.776H370.08V288.432H369.36ZM370.08 268.776H370.8V288.432H370.08ZM370.8 268.776H371.52V288.432H370.8ZM371.52 268.776H372.24V288.432H371.52ZM372.96 268.776H373.68V288.432H372.96ZM373.68 268.776H374.4V288.432H373.68ZM374.4 268.776H375.12V288.432H374.4ZM375.12 268.776H375.84V288.432H375.12ZM376.56 268.776H377.28V288.432H376.56ZM378 268.776H378.72V288.432H378ZM378.72 268.776H379.44V288.432H378.72ZM379.44 268.776H380.16V288.432H379.44ZM380.16 268.776H380.88V288.432H380.16ZM380.88 268.776H381.6V288.432H380.88ZM381.6 268.776H382.32V288.432H381.6ZM382.32 268.776H383.04V288.432H382.32ZM383.04 268.776H383.76V288.432H383.04ZM383.76 268.776H384.48V288.432H383.76ZM384.48 268.776H385.2V288.432H384.48ZM385.2 268.776H385.92V288.432H385.2ZM385.92 268.776H386.64V288.432H385.92ZM387.36 268.776H388.08V288.432H387.36ZM388.08 268.776H388.8V288.432H388.08ZM388.8 268.776H389.52V288.432H388.8ZM389.52 268.776H390.24V288.432H389.52ZM390.24 268.776H390.96V288.432H390.24ZM390.96 268.776H391.68V288.432H390.96ZM391.68 268.776H392.4V288.432H391.68ZM392.4 268.776H393.12V288.432H392.4ZM393.12 268.776H393.84V288.432H393.12ZM393.84 268.776H394.56V288.432H393.84ZM395.28 268.776H396V288.432H395.28ZM396 268.776H396.72V288.432H396ZM396.72 268.776H397.44V288.432H396.72ZM397.44 268.776H398.16V288.432H397.44ZM398.16 268.776H398.88V288.432H398.16ZM398.88 268.776H399.6V288.432H398.88ZM400.32 268.776H401.04V288.432H400.32ZM401.04 268.776H401.76V288.432H401.04ZM402.48 268.776H403.2V288.432H402.48ZM403.92 268.776H404.64V288.432H403.92ZM404.64 268.776H405.36V288.432H404.64ZM405.36 268.776H406.08V288.432H405.36ZM406.08 268.776H406.8V288.432H406.08ZM406.8 268.776H407.52V288.432H406.8ZM408.24 268.776H408.96V288.432H408.24ZM409.68 268.776H410.4V288.432H409.68ZM410.4 268.776H411.12V288.432H410.4ZM411.84 268.776H412.56V288.432H411.84ZM412.56 268.776H413.28V288.432H412.56ZM413.28 268.776H414V288.432H413.28ZM414 268.776H414.72V288.432H414Z" style="fill:#660000" /></g>
<g id="patch_18">
<path d="M57.56 249.8H58.36V308.2H57.56Z" style="fill:#000"/>
</g>
<g id="patch_19">
<path d="M414.68 249.8H415.48V308.2H414.68Z" style="fill:#000"/>
</g>
<g id="patch_20">
<path d="M57.56 307.4H415.48V308.2H57.56Z" style="fill:#000"/>
</g>
<g id="patch_21">
<path d="M57.56 249.8H415.48V250.6H57.56Z" style="fill:#000"/>
</g>
</g>
</g>
<defs>
</defs>
</svg>

</body></html>
